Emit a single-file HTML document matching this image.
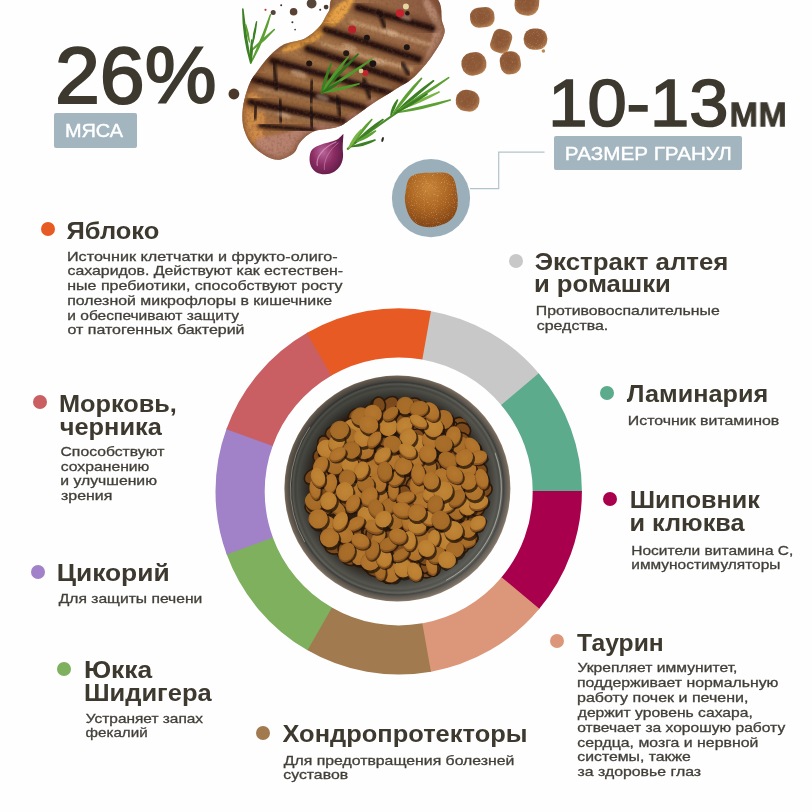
<!DOCTYPE html>
<html lang="ru"><head><meta charset="utf-8"><title>Состав корма</title>
<style>
html,body{margin:0;padding:0;background:#fefefe;}
body{width:812px;height:812px;position:relative;overflow:hidden;font-family:"Liberation Sans",sans-serif;}
.t{position:absolute;left:0;top:0;white-space:nowrap;transform-origin:0 0;line-height:1;will-change:transform;}
.dot{position:absolute;width:14px;height:14px;border-radius:50%;}
.lbl{position:absolute;background:#a3b5bf;border-radius:2px;}
svg{position:absolute;left:0;top:0;}
</style></head><body>
<svg width="812" height="812" viewBox="0 0 812 812">
<path d="M430.04,310.90 A183.2,183.2 0 0 1 539.35,374.01 L501.58,405.54 A134.0,134.0 0 0 0 421.62,359.38 Z" fill="#c8c8c8"/>
<path d="M538.73,373.27 A183.2,183.2 0 0 1 581.90,491.88 L532.70,491.75 A134.0,134.0 0 0 0 501.12,405.00 Z" fill="#5cab8c"/>
<path d="M581.90,490.92 A183.2,183.2 0 0 1 538.73,609.53 L501.12,577.80 A134.0,134.0 0 0 0 532.70,491.05 Z" fill="#a9004d"/>
<path d="M539.35,608.79 A183.2,183.2 0 0 1 430.04,671.90 L421.62,623.42 A134.0,134.0 0 0 0 501.58,577.26 Z" fill="#dc977a"/>
<path d="M430.98,671.73 A183.2,183.2 0 0 1 306.68,649.82 L331.40,607.27 A134.0,134.0 0 0 0 422.31,623.30 Z" fill="#a17a4f"/>
<path d="M307.52,650.30 A183.2,183.2 0 0 1 226.38,553.61 L272.66,536.90 A134.0,134.0 0 0 0 332.00,607.62 Z" fill="#7eb05e"/>
<path d="M226.71,554.51 A183.2,183.2 0 0 1 226.71,428.29 L272.90,445.24 A134.0,134.0 0 0 0 272.90,537.56 Z" fill="#a181c8"/>
<path d="M226.38,429.19 A183.2,183.2 0 0 1 307.52,332.50 L332.00,375.18 A134.0,134.0 0 0 0 272.66,445.90 Z" fill="#c95f62"/>
<path d="M306.68,332.98 A183.2,183.2 0 0 1 430.98,311.07 L422.31,359.50 A134.0,134.0 0 0 0 331.40,375.53 Z" fill="#e85a24"/>
<defs>
<radialGradient id="kb" cx="48%" cy="45%" r="60%"><stop offset="0" stop-color="#b4782f"/><stop offset="0.75" stop-color="#ae712b"/><stop offset="1" stop-color="#965c22"/></radialGradient>
<radialGradient id="kb2" cx="48%" cy="45%" r="60%"><stop offset="0" stop-color="#a96f2a"/><stop offset="0.75" stop-color="#a46a27"/><stop offset="1" stop-color="#8c551e"/></radialGradient>
<radialGradient id="kb3" cx="48%" cy="45%" r="60%"><stop offset="0" stop-color="#c08636"/><stop offset="0.75" stop-color="#ba7e31"/><stop offset="1" stop-color="#a56a27"/></radialGradient>
<radialGradient id="bowl" cx="50%" cy="50%" r="50%">
<stop offset="0" stop-color="#2e1d0e"/><stop offset="0.76" stop-color="#2e1f12"/><stop offset="0.82" stop-color="#3b3a34"/><stop offset="0.885" stop-color="#55554e"/><stop offset="0.905" stop-color="#4a4a44"/><stop offset="0.925" stop-color="#62625b"/><stop offset="0.94" stop-color="#3f3e3a"/><stop offset="0.955" stop-color="#55534d"/><stop offset="0.975" stop-color="#6a6156"/><stop offset="0.99" stop-color="#7b6c5c"/><stop offset="1" stop-color="#8d8174"/></radialGradient>
<linearGradient id="bowlsh" x1="0" y1="0" x2="1" y2="1"><stop offset="0" stop-color="#000" stop-opacity="0.28"/><stop offset="0.5" stop-color="#000" stop-opacity="0"/><stop offset="1" stop-color="#fff" stop-opacity="0.18"/></linearGradient>
<radialGradient id="pc" cx="45%" cy="42%" r="62%"><stop offset="0" stop-color="#8a5534"/><stop offset="0.6" stop-color="#8e5a38"/><stop offset="0.88" stop-color="#a87248"/><stop offset="1" stop-color="#c08a5c"/></radialGradient>
<filter id="grain" x="0" y="0" width="100%" height="100%"><feTurbulence type="fractalNoise" baseFrequency="0.9" numOctaves="2" seed="3" result="n"/><feColorMatrix in="n" type="matrix" values="0 0 0 0 1  0 0 0 0 0.85  0 0 0 0 0.6  0 0 0 2.2 -1.25" result="sp"/><feComposite in="sp" in2="SourceGraphic" operator="in"/></filter>
<radialGradient id="gran" cx="45%" cy="28%" r="78%"><stop offset="0" stop-color="#c88438"/><stop offset="0.5" stop-color="#ab6522"/><stop offset="1" stop-color="#7c3f14"/></radialGradient>
<linearGradient id="stk" x1="0" y1="1" x2="1" y2="0"><stop offset="0" stop-color="#8c5236"/><stop offset="0.5" stop-color="#8a563c"/><stop offset="1" stop-color="#7d4a34"/></linearGradient>
<radialGradient id="onion" cx="40%" cy="45%" r="65%"><stop offset="0" stop-color="#b9659a"/><stop offset="0.5" stop-color="#8b2d63"/><stop offset="1" stop-color="#5e1a45"/></radialGradient>
<clipPath id="bowlclip"><circle cx="397.5" cy="488.6" r="96"/></clipPath>
<clipPath id="topclip"><rect x="0" y="0" width="812" height="812"/></clipPath>
</defs>
<circle cx="397.4" cy="488.5" r="113.0" fill="url(#bowl)"/>
<circle cx="397.4" cy="488.5" r="113.0" fill="url(#bowlsh)"/>
<path d="M495.1,452.9 A104,104 0 0 1 446.2,580.3" stroke="#e8e8e4" stroke-width="0.8" fill="none" opacity="0.6"/>
<path d="M304.7,542.0 A107,107 0 0 1 309.8,427.1" stroke="#d8c8b0" stroke-width="0.8" fill="none" opacity="0.6"/>
<g clip-path="url(#bowlclip)">
<ellipse cx="399.4" cy="473.7" rx="9.4" ry="5.3" transform="rotate(147 399.4 473.7)" fill="#7a4a1c" stroke="#2a190c" stroke-width="1.6"/>
<ellipse cx="370.6" cy="478.8" rx="9.4" ry="8.7" transform="rotate(23 370.6 478.8)" fill="#7a4a1c" stroke="#2a190c" stroke-width="1.6"/>
<ellipse cx="324.5" cy="475.7" rx="9.3" ry="4.6" transform="rotate(107 324.5 475.7)" fill="#7a4a1c" stroke="#2a190c" stroke-width="1.6"/>
<ellipse cx="397.8" cy="522.9" rx="8.0" ry="7.7" transform="rotate(156 397.8 522.9)" fill="#7a4a1c" stroke="#2a190c" stroke-width="1.6"/>
<ellipse cx="402.4" cy="539.0" rx="8.2" ry="7.7" transform="rotate(72 402.4 539.0)" fill="#7a4a1c" stroke="#2a190c" stroke-width="1.6"/>
<ellipse cx="407.9" cy="495.0" rx="7.8" ry="6.5" transform="rotate(68 407.9 495.0)" fill="#7a4a1c" stroke="#2a190c" stroke-width="1.6"/>
<ellipse cx="339.6" cy="475.0" rx="8.5" ry="7.6" transform="rotate(165 339.6 475.0)" fill="#7a4a1c" stroke="#2a190c" stroke-width="1.6"/>
<ellipse cx="440.5" cy="520.7" rx="8.4" ry="8.8" transform="rotate(3 440.5 520.7)" fill="#7a4a1c" stroke="#2a190c" stroke-width="1.6"/>
<ellipse cx="472.6" cy="475.8" rx="7.9" ry="4.7" transform="rotate(29 472.6 475.8)" fill="#7a4a1c" stroke="#2a190c" stroke-width="1.6"/>
<ellipse cx="459.4" cy="426.2" rx="8.7" ry="8.9" transform="rotate(32 459.4 426.2)" fill="#7a4a1c" stroke="#2a190c" stroke-width="1.6"/>
<ellipse cx="470.4" cy="539.0" rx="7.7" ry="8.0" transform="rotate(52 470.4 539.0)" fill="#7a4a1c" stroke="#2a190c" stroke-width="1.6"/>
<ellipse cx="414.1" cy="406.1" rx="8.0" ry="8.6" transform="rotate(71 414.1 406.1)" fill="#7a4a1c" stroke="#2a190c" stroke-width="1.6"/>
<ellipse cx="442.6" cy="490.0" rx="8.7" ry="7.1" transform="rotate(141 442.6 490.0)" fill="#7a4a1c" stroke="#2a190c" stroke-width="1.6"/>
<ellipse cx="478.5" cy="503.5" rx="9.4" ry="5.4" transform="rotate(132 478.5 503.5)" fill="#7a4a1c" stroke="#2a190c" stroke-width="1.6"/>
<ellipse cx="325.9" cy="445.6" rx="9.3" ry="4.8" transform="rotate(160 325.9 445.6)" fill="#7a4a1c" stroke="#2a190c" stroke-width="1.6"/>
<ellipse cx="338.9" cy="475.4" rx="9.1" ry="5.6" transform="rotate(132 338.9 475.4)" fill="#7a4a1c" stroke="#2a190c" stroke-width="1.6"/>
<ellipse cx="337.1" cy="439.0" rx="7.9" ry="8.1" transform="rotate(46 337.1 439.0)" fill="#7a4a1c" stroke="#2a190c" stroke-width="1.6"/>
<ellipse cx="483.7" cy="489.3" rx="7.7" ry="8.5" transform="rotate(74 483.7 489.3)" fill="#7a4a1c" stroke="#2a190c" stroke-width="1.6"/>
<ellipse cx="470.2" cy="508.4" rx="7.8" ry="7.0" transform="rotate(178 470.2 508.4)" fill="#7a4a1c" stroke="#2a190c" stroke-width="1.6"/>
<ellipse cx="402.9" cy="491.2" rx="7.6" ry="6.1" transform="rotate(82 402.9 491.2)" fill="#7a4a1c" stroke="#2a190c" stroke-width="1.6"/>
<ellipse cx="433.5" cy="416.1" rx="8.8" ry="6.3" transform="rotate(17 433.5 416.1)" fill="#7a4a1c" stroke="#2a190c" stroke-width="1.6"/>
<ellipse cx="421.5" cy="553.5" rx="7.8" ry="5.9" transform="rotate(177 421.5 553.5)" fill="#7a4a1c" stroke="#2a190c" stroke-width="1.6"/>
<ellipse cx="412.6" cy="473.7" rx="8.8" ry="7.5" transform="rotate(120 412.6 473.7)" fill="#7a4a1c" stroke="#2a190c" stroke-width="1.6"/>
<ellipse cx="404.3" cy="453.9" rx="9.2" ry="8.1" transform="rotate(104 404.3 453.9)" fill="#7a4a1c" stroke="#2a190c" stroke-width="1.6"/>
<ellipse cx="358.4" cy="457.2" rx="9.1" ry="8.7" transform="rotate(27 358.4 457.2)" fill="#7a4a1c" stroke="#2a190c" stroke-width="1.6"/>
<ellipse cx="467.4" cy="448.9" rx="8.0" ry="7.4" transform="rotate(85 467.4 448.9)" fill="#7a4a1c" stroke="#2a190c" stroke-width="1.6"/>
<ellipse cx="444.9" cy="544.8" rx="9.5" ry="6.6" transform="rotate(145 444.9 544.8)" fill="#7a4a1c" stroke="#2a190c" stroke-width="1.6"/>
<ellipse cx="396.1" cy="521.3" rx="8.4" ry="6.3" transform="rotate(12 396.1 521.3)" fill="#7a4a1c" stroke="#2a190c" stroke-width="1.6"/>
<ellipse cx="371.2" cy="455.2" rx="8.2" ry="5.9" transform="rotate(27 371.2 455.2)" fill="#7a4a1c" stroke="#2a190c" stroke-width="1.6"/>
<ellipse cx="345.4" cy="553.6" rx="8.1" ry="5.5" transform="rotate(179 345.4 553.6)" fill="#7a4a1c" stroke="#2a190c" stroke-width="1.6"/>
<ellipse cx="322.1" cy="451.7" rx="8.4" ry="4.7" transform="rotate(130 322.1 451.7)" fill="#7a4a1c" stroke="#2a190c" stroke-width="1.6"/>
<ellipse cx="354.8" cy="536.5" rx="7.6" ry="6.3" transform="rotate(118 354.8 536.5)" fill="#7a4a1c" stroke="#2a190c" stroke-width="1.6"/>
<ellipse cx="342.9" cy="511.1" rx="7.6" ry="4.8" transform="rotate(162 342.9 511.1)" fill="#7a4a1c" stroke="#2a190c" stroke-width="1.6"/>
<ellipse cx="470.1" cy="494.4" rx="9.0" ry="7.6" transform="rotate(121 470.1 494.4)" fill="#7a4a1c" stroke="#2a190c" stroke-width="1.6"/>
<ellipse cx="430.5" cy="541.8" rx="8.2" ry="7.3" transform="rotate(11 430.5 541.8)" fill="#7a4a1c" stroke="#2a190c" stroke-width="1.6"/>
<ellipse cx="390.4" cy="480.0" rx="8.4" ry="7.1" transform="rotate(121 390.4 480.0)" fill="#7a4a1c" stroke="#2a190c" stroke-width="1.6"/>
<ellipse cx="334.3" cy="547.2" rx="9.2" ry="6.9" transform="rotate(2 334.3 547.2)" fill="#7a4a1c" stroke="#2a190c" stroke-width="1.6"/>
<ellipse cx="450.4" cy="428.5" rx="8.2" ry="4.5" transform="rotate(135 450.4 428.5)" fill="#7a4a1c" stroke="#2a190c" stroke-width="1.6"/>
<ellipse cx="425.7" cy="492.8" rx="7.8" ry="4.7" transform="rotate(172 425.7 492.8)" fill="#7a4a1c" stroke="#2a190c" stroke-width="1.6"/>
<ellipse cx="424.8" cy="570.5" rx="9.1" ry="7.0" transform="rotate(23 424.8 570.5)" fill="#7a4a1c" stroke="#2a190c" stroke-width="1.6"/>
<ellipse cx="416.7" cy="531.4" rx="7.9" ry="4.7" transform="rotate(89 416.7 531.4)" fill="#7a4a1c" stroke="#2a190c" stroke-width="1.6"/>
<ellipse cx="339.7" cy="481.8" rx="7.7" ry="5.1" transform="rotate(163 339.7 481.8)" fill="#7a4a1c" stroke="#2a190c" stroke-width="1.6"/>
<ellipse cx="423.9" cy="543.8" rx="8.4" ry="6.0" transform="rotate(39 423.9 543.8)" fill="#7a4a1c" stroke="#2a190c" stroke-width="1.6"/>
<ellipse cx="424.3" cy="445.9" rx="8.8" ry="6.2" transform="rotate(47 424.3 445.9)" fill="#7a4a1c" stroke="#2a190c" stroke-width="1.6"/>
<ellipse cx="314.5" cy="506.3" rx="9.5" ry="8.0" transform="rotate(166 314.5 506.3)" fill="#7a4a1c" stroke="#2a190c" stroke-width="1.6"/>
<ellipse cx="363.6" cy="458.9" rx="7.5" ry="6.6" transform="rotate(37 363.6 458.9)" fill="#7a4a1c" stroke="#2a190c" stroke-width="1.6"/>
<ellipse cx="321.2" cy="456.7" rx="8.0" ry="8.2" transform="rotate(139 321.2 456.7)" fill="#7a4a1c" stroke="#2a190c" stroke-width="1.6"/>
<ellipse cx="413.1" cy="457.7" rx="7.8" ry="8.3" transform="rotate(126 413.1 457.7)" fill="#7a4a1c" stroke="#2a190c" stroke-width="1.6"/>
<ellipse cx="405.6" cy="525.9" rx="8.6" ry="7.8" transform="rotate(60 405.6 525.9)" fill="#7a4a1c" stroke="#2a190c" stroke-width="1.6"/>
<ellipse cx="322.8" cy="511.2" rx="9.0" ry="7.9" transform="rotate(152 322.8 511.2)" fill="#7a4a1c" stroke="#2a190c" stroke-width="1.6"/>
<ellipse cx="335.6" cy="532.8" rx="9.0" ry="7.9" transform="rotate(58 335.6 532.8)" fill="#7a4a1c" stroke="#2a190c" stroke-width="1.6"/>
<ellipse cx="385.8" cy="423.4" rx="8.4" ry="4.8" transform="rotate(93 385.8 423.4)" fill="#7a4a1c" stroke="#2a190c" stroke-width="1.6"/>
<ellipse cx="333.3" cy="490.7" rx="9.3" ry="6.5" transform="rotate(43 333.3 490.7)" fill="#7a4a1c" stroke="#2a190c" stroke-width="1.6"/>
<ellipse cx="398.4" cy="416.2" rx="8.7" ry="5.9" transform="rotate(109 398.4 416.2)" fill="#7a4a1c" stroke="#2a190c" stroke-width="1.6"/>
<ellipse cx="437.9" cy="473.1" rx="8.1" ry="4.8" transform="rotate(61 437.9 473.1)" fill="#7a4a1c" stroke="#2a190c" stroke-width="1.6"/>
<ellipse cx="387.3" cy="458.2" rx="9.0" ry="4.9" transform="rotate(105 387.3 458.2)" fill="#7a4a1c" stroke="#2a190c" stroke-width="1.6"/>
<ellipse cx="436.2" cy="535.3" rx="9.4" ry="4.9" transform="rotate(174 436.2 535.3)" fill="#7a4a1c" stroke="#2a190c" stroke-width="1.6"/>
<ellipse cx="441.8" cy="544.1" rx="8.7" ry="4.5" transform="rotate(57 441.8 544.1)" fill="#7a4a1c" stroke="#2a190c" stroke-width="1.6"/>
<ellipse cx="365.8" cy="472.9" rx="9.4" ry="8.0" transform="rotate(135 365.8 472.9)" fill="#7a4a1c" stroke="#2a190c" stroke-width="1.6"/>
<ellipse cx="438.7" cy="431.5" rx="8.3" ry="6.7" transform="rotate(58 438.7 431.5)" fill="#7a4a1c" stroke="#2a190c" stroke-width="1.6"/>
<ellipse cx="454.9" cy="486.9" rx="9.1" ry="6.6" transform="rotate(56 454.9 486.9)" fill="#7a4a1c" stroke="#2a190c" stroke-width="1.6"/>
<ellipse cx="319.3" cy="480.8" rx="7.7" ry="8.8" transform="rotate(90 319.3 480.8)" fill="#7a4a1c" stroke="#2a190c" stroke-width="1.6"/>
<ellipse cx="477.4" cy="453.0" rx="9.5" ry="4.8" transform="rotate(88 477.4 453.0)" fill="#7a4a1c" stroke="#2a190c" stroke-width="1.6"/>
<ellipse cx="453.2" cy="464.2" rx="8.2" ry="8.5" transform="rotate(5 453.2 464.2)" fill="#7a4a1c" stroke="#2a190c" stroke-width="1.6"/>
<ellipse cx="378.9" cy="404.1" rx="7.8" ry="4.6" transform="rotate(12 378.9 404.1)" fill="#7a4a1c" stroke="#2a190c" stroke-width="1.6"/>
<ellipse cx="312.1" cy="476.4" rx="8.8" ry="6.4" transform="rotate(137 312.1 476.4)" fill="#7a4a1c" stroke="#2a190c" stroke-width="1.6"/>
<ellipse cx="392.7" cy="500.2" rx="7.8" ry="7.2" transform="rotate(135 392.7 500.2)" fill="#7a4a1c" stroke="#2a190c" stroke-width="1.6"/>
<ellipse cx="408.1" cy="519.5" rx="9.0" ry="8.8" transform="rotate(26 408.1 519.5)" fill="#7a4a1c" stroke="#2a190c" stroke-width="1.6"/>
<ellipse cx="429.4" cy="468.8" rx="9.3" ry="6.3" transform="rotate(12 429.4 468.8)" fill="#7a4a1c" stroke="#2a190c" stroke-width="1.6"/>
<ellipse cx="364.8" cy="429.4" rx="7.9" ry="6.9" transform="rotate(4 364.8 429.4)" fill="#7a4a1c" stroke="#2a190c" stroke-width="1.6"/>
<ellipse cx="336.6" cy="458.6" rx="7.9" ry="6.9" transform="rotate(114 336.6 458.6)" fill="#7a4a1c" stroke="#2a190c" stroke-width="1.6"/>
<ellipse cx="358.5" cy="492.9" rx="7.8" ry="7.5" transform="rotate(24 358.5 492.9)" fill="#7a4a1c" stroke="#2a190c" stroke-width="1.6"/>
<ellipse cx="333.2" cy="491.9" rx="9.2" ry="6.1" transform="rotate(180 333.2 491.9)" fill="#7a4a1c" stroke="#2a190c" stroke-width="1.6"/>
<ellipse cx="348.5" cy="544.6" rx="8.4" ry="6.9" transform="rotate(114 348.5 544.6)" fill="#7a4a1c" stroke="#2a190c" stroke-width="1.6"/>
<ellipse cx="475.5" cy="466.4" rx="9.3" ry="4.9" transform="rotate(146 475.5 466.4)" fill="#7a4a1c" stroke="#2a190c" stroke-width="1.6"/>
<ellipse cx="428.5" cy="490.9" rx="8.3" ry="6.0" transform="rotate(55 428.5 490.9)" fill="#7a4a1c" stroke="#2a190c" stroke-width="1.6"/>
<ellipse cx="372.9" cy="456.7" rx="8.6" ry="5.1" transform="rotate(114 372.9 456.7)" fill="#7a4a1c" stroke="#2a190c" stroke-width="1.6"/>
<ellipse cx="368.7" cy="465.0" rx="8.9" ry="6.5" transform="rotate(115 368.7 465.0)" fill="#7a4a1c" stroke="#2a190c" stroke-width="1.6"/>
<ellipse cx="343.3" cy="487.9" rx="9.4" ry="6.3" transform="rotate(108 343.3 487.9)" fill="#7a4a1c" stroke="#2a190c" stroke-width="1.6"/>
<ellipse cx="441.5" cy="485.2" rx="8.3" ry="6.3" transform="rotate(149 441.5 485.2)" fill="#7a4a1c" stroke="#2a190c" stroke-width="1.6"/>
<ellipse cx="368.5" cy="499.4" rx="8.3" ry="8.3" transform="rotate(102 368.5 499.4)" fill="#7a4a1c" stroke="#2a190c" stroke-width="1.6"/>
<ellipse cx="371.3" cy="530.9" rx="8.6" ry="6.4" transform="rotate(166 371.3 530.9)" fill="#7a4a1c" stroke="#2a190c" stroke-width="1.6"/>
<ellipse cx="473.3" cy="517.1" rx="9.4" ry="8.0" transform="rotate(81 473.3 517.1)" fill="#7a4a1c" stroke="#2a190c" stroke-width="1.6"/>
<ellipse cx="447.7" cy="554.3" rx="8.7" ry="6.3" transform="rotate(37 447.7 554.3)" fill="#7a4a1c" stroke="#2a190c" stroke-width="1.6"/>
<ellipse cx="364.9" cy="500.0" rx="7.7" ry="4.7" transform="rotate(94 364.9 500.0)" fill="#7a4a1c" stroke="#2a190c" stroke-width="1.6"/>
<ellipse cx="395.5" cy="514.4" rx="7.9" ry="5.9" transform="rotate(54 395.5 514.4)" fill="#7a4a1c" stroke="#2a190c" stroke-width="1.6"/>
<ellipse cx="425.7" cy="417.2" rx="7.6" ry="6.9" transform="rotate(25 425.7 417.2)" fill="#7a4a1c" stroke="#2a190c" stroke-width="1.6"/>
<ellipse cx="331.4" cy="506.8" rx="8.6" ry="7.6" transform="rotate(133 331.4 506.8)" fill="#7a4a1c" stroke="#2a190c" stroke-width="1.6"/>
<ellipse cx="432.8" cy="568.8" rx="7.5" ry="7.3" transform="rotate(142 432.8 568.8)" fill="#7a4a1c" stroke="#2a190c" stroke-width="1.6"/>
<ellipse cx="425.2" cy="409.3" rx="7.7" ry="4.6" transform="rotate(72 425.2 409.3)" fill="#7a4a1c" stroke="#2a190c" stroke-width="1.6"/>
<ellipse cx="389.3" cy="571.7" rx="7.5" ry="5.6" transform="rotate(83 389.3 571.7)" fill="#7a4a1c" stroke="#2a190c" stroke-width="1.6"/>
<ellipse cx="345.7" cy="444.1" rx="8.9" ry="6.8" transform="rotate(78 345.7 444.1)" fill="#7a4a1c" stroke="#2a190c" stroke-width="1.6"/>
<ellipse cx="369.4" cy="488.4" rx="8.9" ry="5.7" transform="rotate(166 369.4 488.4)" fill="#7a4a1c" stroke="#2a190c" stroke-width="1.6"/>
<ellipse cx="393.3" cy="482.9" rx="9.0" ry="7.3" transform="rotate(5 393.3 482.9)" fill="#7a4a1c" stroke="#2a190c" stroke-width="1.6"/>
<ellipse cx="402.9" cy="469.1" rx="7.9" ry="5.7" transform="rotate(168 402.9 469.1)" fill="#7a4a1c" stroke="#2a190c" stroke-width="1.6"/>
<ellipse cx="450.3" cy="492.1" rx="9.2" ry="6.7" transform="rotate(179 450.3 492.1)" fill="#7a4a1c" stroke="#2a190c" stroke-width="1.6"/>
<ellipse cx="366.5" cy="444.1" rx="9.0" ry="7.8" transform="rotate(15 366.5 444.1)" fill="#7a4a1c" stroke="#2a190c" stroke-width="1.6"/>
<ellipse cx="477.2" cy="509.0" rx="7.5" ry="6.8" transform="rotate(145 477.2 509.0)" fill="#7a4a1c" stroke="#2a190c" stroke-width="1.6"/>
<ellipse cx="462.5" cy="430.3" rx="8.2" ry="7.5" transform="rotate(24 462.5 430.3)" fill="#7a4a1c" stroke="#2a190c" stroke-width="1.6"/>
<ellipse cx="339.8" cy="526.4" rx="8.4" ry="5.7" transform="rotate(35 339.8 526.4)" fill="#7a4a1c" stroke="#2a190c" stroke-width="1.6"/>
<ellipse cx="420.1" cy="557.1" rx="8.3" ry="4.9" transform="rotate(107 420.1 557.1)" fill="#7a4a1c" stroke="#2a190c" stroke-width="1.6"/>
<ellipse cx="451.6" cy="449.6" rx="9.0" ry="4.8" transform="rotate(160 451.6 449.6)" fill="#7a4a1c" stroke="#2a190c" stroke-width="1.6"/>
<ellipse cx="382.9" cy="453.9" rx="8.0" ry="8.9" transform="rotate(48 382.9 453.9)" fill="#7a4a1c" stroke="#2a190c" stroke-width="1.6"/>
<ellipse cx="349.0" cy="558.1" rx="8.4" ry="6.9" transform="rotate(36 349.0 558.1)" fill="#7a4a1c" stroke="#2a190c" stroke-width="1.6"/>
<ellipse cx="419.5" cy="563.4" rx="8.4" ry="7.0" transform="rotate(37 419.5 563.4)" fill="#7a4a1c" stroke="#2a190c" stroke-width="1.6"/>
<ellipse cx="453.6" cy="440.7" rx="8.2" ry="5.0" transform="rotate(17 453.6 440.7)" fill="#7a4a1c" stroke="#2a190c" stroke-width="1.6"/>
<ellipse cx="323.4" cy="518.5" rx="7.7" ry="7.0" transform="rotate(50 323.4 518.5)" fill="#7a4a1c" stroke="#2a190c" stroke-width="1.6"/>
<ellipse cx="445.4" cy="421.1" rx="9.1" ry="7.6" transform="rotate(19 445.4 421.1)" fill="#7a4a1c" stroke="#2a190c" stroke-width="1.6"/>
<ellipse cx="420.6" cy="501.1" rx="8.4" ry="6.8" transform="rotate(143 420.6 501.1)" fill="#7a4a1c" stroke="#2a190c" stroke-width="1.6"/>
<ellipse cx="375.6" cy="468.4" rx="9.4" ry="6.7" transform="rotate(8 375.6 468.4)" fill="#7a4a1c" stroke="#2a190c" stroke-width="1.6"/>
<ellipse cx="341.8" cy="501.2" rx="8.4" ry="6.8" transform="rotate(164 341.8 501.2)" fill="#7a4a1c" stroke="#2a190c" stroke-width="1.6"/>
<ellipse cx="434.2" cy="462.8" rx="8.2" ry="6.7" transform="rotate(9 434.2 462.8)" fill="#7a4a1c" stroke="#2a190c" stroke-width="1.6"/>
<ellipse cx="346.1" cy="467.9" rx="8.4" ry="8.9" transform="rotate(110 346.1 467.9)" fill="#7a4a1c" stroke="#2a190c" stroke-width="1.6"/>
<ellipse cx="375.3" cy="570.9" rx="9.2" ry="5.7" transform="rotate(11 375.3 570.9)" fill="#7a4a1c" stroke="#2a190c" stroke-width="1.6"/>
<ellipse cx="473.2" cy="502.4" rx="8.3" ry="7.8" transform="rotate(110 473.2 502.4)" fill="#7a4a1c" stroke="#2a190c" stroke-width="1.6"/>
<ellipse cx="447.5" cy="425.0" rx="8.4" ry="6.5" transform="rotate(87 447.5 425.0)" fill="#7a4a1c" stroke="#2a190c" stroke-width="1.6"/>
<ellipse cx="336.0" cy="473.0" rx="8.4" ry="6.1" transform="rotate(24 336.0 473.0)" fill="#7a4a1c" stroke="#2a190c" stroke-width="1.6"/>
<ellipse cx="405.9" cy="554.9" rx="8.9" ry="6.5" transform="rotate(35 405.9 554.9)" fill="#7a4a1c" stroke="#2a190c" stroke-width="1.6"/>
<ellipse cx="376.3" cy="412.7" rx="8.8" ry="6.6" transform="rotate(15 376.3 412.7)" fill="#7a4a1c" stroke="#2a190c" stroke-width="1.6"/>
<ellipse cx="406.9" cy="485.6" rx="9.5" ry="8.0" transform="rotate(112 406.9 485.6)" fill="#7a4a1c" stroke="#2a190c" stroke-width="1.6"/>
<ellipse cx="447.9" cy="514.7" rx="8.9" ry="6.2" transform="rotate(35 447.9 514.7)" fill="#7a4a1c" stroke="#2a190c" stroke-width="1.6"/>
<ellipse cx="381.8" cy="427.2" rx="8.6" ry="7.5" transform="rotate(127 381.8 427.2)" fill="#7a4a1c" stroke="#2a190c" stroke-width="1.6"/>
<ellipse cx="333.5" cy="433.8" rx="7.5" ry="8.1" transform="rotate(92 333.5 433.8)" fill="#7a4a1c" stroke="#2a190c" stroke-width="1.6"/>
<ellipse cx="347.4" cy="486.3" rx="8.3" ry="5.0" transform="rotate(43 347.4 486.3)" fill="#7a4a1c" stroke="#2a190c" stroke-width="1.6"/>
<ellipse cx="385.8" cy="575.9" rx="8.6" ry="5.8" transform="rotate(56 385.8 575.9)" fill="#7a4a1c" stroke="#2a190c" stroke-width="1.6"/>
<ellipse cx="368.0" cy="450.2" rx="8.0" ry="6.3" transform="rotate(128 368.0 450.2)" fill="#7a4a1c" stroke="#2a190c" stroke-width="1.6"/>
<ellipse cx="462.7" cy="542.1" rx="7.8" ry="6.6" transform="rotate(34 462.7 542.1)" fill="#7a4a1c" stroke="#2a190c" stroke-width="1.6"/>
<ellipse cx="419.8" cy="549.5" rx="8.0" ry="5.4" transform="rotate(122 419.8 549.5)" fill="#7a4a1c" stroke="#2a190c" stroke-width="1.6"/>
<ellipse cx="437.5" cy="537.8" rx="8.0" ry="8.6" transform="rotate(151 437.5 537.8)" fill="#7a4a1c" stroke="#2a190c" stroke-width="1.6"/>
<ellipse cx="356.4" cy="416.0" rx="8.2" ry="7.0" transform="rotate(156 356.4 416.0)" fill="#7a4a1c" stroke="#2a190c" stroke-width="1.6"/>
<ellipse cx="470.7" cy="535.0" rx="8.9" ry="4.7" transform="rotate(45 470.7 535.0)" fill="#7a4a1c" stroke="#2a190c" stroke-width="1.6"/>
<ellipse cx="455.3" cy="494.3" rx="9.0" ry="8.3" transform="rotate(129 455.3 494.3)" fill="#7a4a1c" stroke="#2a190c" stroke-width="1.6"/>
<ellipse cx="453.2" cy="453.2" rx="8.3" ry="6.9" transform="rotate(149 453.2 453.2)" fill="#7a4a1c" stroke="#2a190c" stroke-width="1.6"/>
<ellipse cx="373.4" cy="519.7" rx="8.5" ry="6.0" transform="rotate(177 373.4 519.7)" fill="#7a4a1c" stroke="#2a190c" stroke-width="1.6"/>
<ellipse cx="396.0" cy="533.6" rx="7.6" ry="7.2" transform="rotate(22 396.0 533.6)" fill="#7a4a1c" stroke="#2a190c" stroke-width="1.6"/>
<ellipse cx="464.9" cy="463.3" rx="8.4" ry="4.8" transform="rotate(166 464.9 463.3)" fill="#7a4a1c" stroke="#2a190c" stroke-width="1.6"/>
<ellipse cx="430.3" cy="547.0" rx="9.0" ry="6.6" transform="rotate(121 430.3 547.0)" fill="#7a4a1c" stroke="#2a190c" stroke-width="1.6"/>
<ellipse cx="386.3" cy="441.6" rx="8.0" ry="5.1" transform="rotate(172 386.3 441.6)" fill="#7a4a1c" stroke="#2a190c" stroke-width="1.6"/>
<ellipse cx="391.2" cy="512.6" rx="9.3" ry="7.9" transform="rotate(35 391.2 512.6)" fill="#7a4a1c" stroke="#2a190c" stroke-width="1.6"/>
<ellipse cx="425.8" cy="454.7" rx="9.1" ry="7.9" transform="rotate(115 425.8 454.7)" fill="#7a4a1c" stroke="#2a190c" stroke-width="1.6"/>
<ellipse cx="397.5" cy="522.7" rx="9.5" ry="5.0" transform="rotate(73 397.5 522.7)" fill="#7a4a1c" stroke="#2a190c" stroke-width="1.6"/>
<ellipse cx="327.0" cy="452.9" rx="8.7" ry="5.3" transform="rotate(167 327.0 452.9)" fill="#7a4a1c" stroke="#2a190c" stroke-width="1.6"/>
<ellipse cx="415.6" cy="436.2" rx="7.5" ry="8.3" transform="rotate(20 415.6 436.2)" fill="#7a4a1c" stroke="#2a190c" stroke-width="1.6"/>
<ellipse cx="355.7" cy="526.8" rx="7.6" ry="8.1" transform="rotate(32 355.7 526.8)" fill="#7a4a1c" stroke="#2a190c" stroke-width="1.6"/>
<ellipse cx="461.5" cy="483.5" rx="9.0" ry="5.7" transform="rotate(13 461.5 483.5)" fill="#7a4a1c" stroke="#2a190c" stroke-width="1.6"/>
<ellipse cx="456.5" cy="452.5" rx="8.8" ry="8.4" transform="rotate(158 456.5 452.5)" fill="#7a4a1c" stroke="#2a190c" stroke-width="1.6"/>
<ellipse cx="372.8" cy="555.0" rx="7.6" ry="8.8" transform="rotate(169 372.8 555.0)" fill="#7a4a1c" stroke="#2a190c" stroke-width="1.6"/>
<ellipse cx="442.7" cy="505.6" rx="7.8" ry="5.6" transform="rotate(31 442.7 505.6)" fill="#7a4a1c" stroke="#2a190c" stroke-width="1.6"/>
<ellipse cx="374.3" cy="535.4" rx="9.0" ry="8.0" transform="rotate(47 374.3 535.4)" fill="#7a4a1c" stroke="#2a190c" stroke-width="1.6"/>
<ellipse cx="389.2" cy="456.9" rx="8.9" ry="7.9" transform="rotate(31 389.2 456.9)" fill="#7a4a1c" stroke="#2a190c" stroke-width="1.6"/>
<ellipse cx="345.3" cy="474.8" rx="9.0" ry="5.0" transform="rotate(131 345.3 474.8)" fill="#7a4a1c" stroke="#2a190c" stroke-width="1.6"/>
<ellipse cx="392.6" cy="411.6" rx="7.5" ry="4.7" transform="rotate(102 392.6 411.6)" fill="#7a4a1c" stroke="#2a190c" stroke-width="1.6"/>
<ellipse cx="438.2" cy="473.4" rx="7.7" ry="8.5" transform="rotate(162 438.2 473.4)" fill="#7a4a1c" stroke="#2a190c" stroke-width="1.6"/>
<ellipse cx="409.1" cy="413.7" rx="8.9" ry="7.1" transform="rotate(106 409.1 413.7)" fill="#7a4a1c" stroke="#2a190c" stroke-width="1.6"/>
<ellipse cx="435.7" cy="531.5" rx="9.3" ry="5.8" transform="rotate(58 435.7 531.5)" fill="#7a4a1c" stroke="#2a190c" stroke-width="1.6"/>
<ellipse cx="355.3" cy="500.9" rx="9.3" ry="8.9" transform="rotate(174 355.3 500.9)" fill="#7a4a1c" stroke="#2a190c" stroke-width="1.6"/>
<ellipse cx="407.4" cy="478.1" rx="9.3" ry="8.9" transform="rotate(32 407.4 478.1)" fill="#7a4a1c" stroke="#2a190c" stroke-width="1.6"/>
<ellipse cx="386.9" cy="518.6" rx="9.1" ry="7.3" transform="rotate(115 386.9 518.6)" fill="#7a4a1c" stroke="#2a190c" stroke-width="1.6"/>
<ellipse cx="448.7" cy="443.7" rx="9.0" ry="5.4" transform="rotate(24 448.7 443.7)" fill="#7a4a1c" stroke="#2a190c" stroke-width="1.6"/>
<ellipse cx="434.3" cy="533.9" rx="8.1" ry="7.7" transform="rotate(178 434.3 533.9)" fill="#7a4a1c" stroke="#2a190c" stroke-width="1.6"/>
<ellipse cx="463.4" cy="439.7" rx="8.5" ry="6.1" transform="rotate(41 463.4 439.7)" fill="#7a4a1c" stroke="#2a190c" stroke-width="1.6"/>
<ellipse cx="413.0" cy="438.4" rx="8.2" ry="6.6" transform="rotate(82 413.0 438.4)" fill="#7a4a1c" stroke="#2a190c" stroke-width="1.6"/>
<ellipse cx="426.4" cy="413.6" rx="8.9" ry="8.6" transform="rotate(103 426.4 413.6)" fill="#7a4a1c" stroke="#2a190c" stroke-width="1.6"/>
<ellipse cx="401.7" cy="498.0" rx="9.3" ry="8.4" transform="rotate(69 401.7 498.0)" fill="#7a4a1c" stroke="#2a190c" stroke-width="1.6"/>
<ellipse cx="443.0" cy="441.7" rx="8.3" ry="5.5" transform="rotate(89 443.0 441.7)" fill="#7a4a1c" stroke="#2a190c" stroke-width="1.6"/>
<ellipse cx="355.2" cy="492.5" rx="9.1" ry="7.5" transform="rotate(109 355.2 492.5)" fill="#7a4a1c" stroke="#2a190c" stroke-width="1.6"/>
<ellipse cx="406.2" cy="497.0" rx="9.1" ry="6.1" transform="rotate(20 406.2 497.0)" fill="#7a4a1c" stroke="#2a190c" stroke-width="1.6"/>
<ellipse cx="399.6" cy="547.4" rx="8.7" ry="8.9" transform="rotate(101 399.6 547.4)" fill="#7a4a1c" stroke="#2a190c" stroke-width="1.6"/>
<ellipse cx="392.5" cy="456.1" rx="9.4" ry="6.0" transform="rotate(2 392.5 456.1)" fill="#7a4a1c" stroke="#2a190c" stroke-width="1.6"/>
<ellipse cx="383.1" cy="478.5" rx="8.1" ry="7.7" transform="rotate(92 383.1 478.5)" fill="#7a4a1c" stroke="#2a190c" stroke-width="1.6"/>
<ellipse cx="457.4" cy="543.3" rx="8.4" ry="5.6" transform="rotate(72 457.4 543.3)" fill="#7a4a1c" stroke="#2a190c" stroke-width="1.6"/>
<ellipse cx="472.4" cy="501.5" rx="8.7" ry="7.0" transform="rotate(63 472.4 501.5)" fill="#7a4a1c" stroke="#2a190c" stroke-width="1.6"/>
<ellipse cx="380.9" cy="406.8" rx="9.1" ry="5.3" transform="rotate(36 380.9 406.8)" fill="#7a4a1c" stroke="#2a190c" stroke-width="1.6"/>
<ellipse cx="407.4" cy="483.6" rx="8.7" ry="7.9" transform="rotate(43 407.4 483.6)" fill="#7a4a1c" stroke="#2a190c" stroke-width="1.6"/>
<ellipse cx="390.2" cy="537.8" rx="7.6" ry="7.1" transform="rotate(49 390.2 537.8)" fill="#7a4a1c" stroke="#2a190c" stroke-width="1.6"/>
<ellipse cx="467.2" cy="457.7" rx="8.2" ry="6.5" transform="rotate(161 467.2 457.7)" fill="#7a4a1c" stroke="#2a190c" stroke-width="1.6"/>
<ellipse cx="439.3" cy="513.8" rx="7.6" ry="4.6" transform="rotate(6 439.3 513.8)" fill="#7a4a1c" stroke="#2a190c" stroke-width="1.6"/>
<ellipse cx="386.7" cy="417.7" rx="8.4" ry="6.9" transform="rotate(38 386.7 417.7)" fill="#7a4a1c" stroke="#2a190c" stroke-width="1.6"/>
<ellipse cx="393.7" cy="495.6" rx="8.9" ry="8.2" transform="rotate(5 393.7 495.6)" fill="#7a4a1c" stroke="#2a190c" stroke-width="1.6"/>
<ellipse cx="353.0" cy="532.3" rx="8.0" ry="8.9" transform="rotate(72 353.0 532.3)" fill="#7a4a1c" stroke="#2a190c" stroke-width="1.6"/>
<ellipse cx="365.3" cy="503.2" rx="8.6" ry="7.5" transform="rotate(149 365.3 503.2)" fill="#7a4a1c" stroke="#2a190c" stroke-width="1.6"/>
<ellipse cx="387.7" cy="500.0" rx="7.7" ry="6.9" transform="rotate(38 387.7 500.0)" fill="#7a4a1c" stroke="#2a190c" stroke-width="1.6"/>
<ellipse cx="322.0" cy="508.5" rx="9.3" ry="6.2" transform="rotate(25 322.0 508.5)" fill="#7a4a1c" stroke="#2a190c" stroke-width="1.6"/>
<ellipse cx="394.6" cy="466.1" rx="7.8" ry="7.3" transform="rotate(82 394.6 466.1)" fill="#7a4a1c" stroke="#2a190c" stroke-width="1.6"/>
<ellipse cx="360.2" cy="457.7" rx="9.4" ry="7.3" transform="rotate(52 360.2 457.7)" fill="#7a4a1c" stroke="#2a190c" stroke-width="1.6"/>
<ellipse cx="366.7" cy="521.7" rx="7.7" ry="5.7" transform="rotate(145 366.7 521.7)" fill="#7a4a1c" stroke="#2a190c" stroke-width="1.6"/>
<ellipse cx="323.1" cy="494.1" rx="7.6" ry="5.6" transform="rotate(172 323.1 494.1)" fill="#7a4a1c" stroke="#2a190c" stroke-width="1.6"/>
<ellipse cx="351.5" cy="496.2" rx="8.1" ry="7.2" transform="rotate(45 351.5 496.2)" fill="#7a4a1c" stroke="#2a190c" stroke-width="1.6"/>
<ellipse cx="390.1" cy="403.7" rx="8.7" ry="6.3" transform="rotate(143 390.1 403.7)" fill="#7a4a1c" stroke="#2a190c" stroke-width="1.6"/>
<ellipse cx="401.8" cy="516.1" rx="8.2" ry="7.3" transform="rotate(148 401.8 516.1)" fill="#7a4a1c" stroke="#2a190c" stroke-width="1.6"/>
<ellipse cx="450.6" cy="525.4" rx="8.0" ry="7.4" transform="rotate(21 450.6 525.4)" fill="#7a4a1c" stroke="#2a190c" stroke-width="1.6"/>
<ellipse cx="363.9" cy="419.6" rx="8.4" ry="9.0" transform="rotate(137 363.9 419.6)" fill="#7a4a1c" stroke="#2a190c" stroke-width="1.6"/>
<ellipse cx="345.5" cy="446.5" rx="8.2" ry="8.4" transform="rotate(115 345.5 446.5)" fill="#7a4a1c" stroke="#2a190c" stroke-width="1.6"/>
<ellipse cx="424.6" cy="563.7" rx="9.1" ry="7.2" transform="rotate(102 424.6 563.7)" fill="#7a4a1c" stroke="#2a190c" stroke-width="1.6"/>
<ellipse cx="374.0" cy="460.5" rx="7.9" ry="8.6" transform="rotate(174 374.0 460.5)" fill="#7a4a1c" stroke="#2a190c" stroke-width="1.6"/>
<ellipse cx="359.3" cy="429.2" rx="8.5" ry="5.8" transform="rotate(117 359.3 429.2)" fill="#7a4a1c" stroke="#2a190c" stroke-width="1.6"/>
<ellipse cx="460.9" cy="515.4" rx="8.5" ry="6.8" transform="rotate(52 460.9 515.4)" fill="#7a4a1c" stroke="#2a190c" stroke-width="1.6"/>
<ellipse cx="418.2" cy="475.2" rx="8.5" ry="7.6" transform="rotate(177 418.2 475.2)" fill="#7a4a1c" stroke="#2a190c" stroke-width="1.6"/>
<ellipse cx="343.2" cy="465.8" rx="7.9" ry="5.8" transform="rotate(99 343.2 465.8)" fill="#7a4a1c" stroke="#2a190c" stroke-width="1.6"/>
<ellipse cx="325.9" cy="507.7" rx="8.6" ry="7.3" transform="rotate(135 325.9 507.7)" fill="#7a4a1c" stroke="#2a190c" stroke-width="1.6"/>
<ellipse cx="359.0" cy="473.8" rx="7.7" ry="8.1" transform="rotate(170 359.0 473.8)" fill="#7a4a1c" stroke="#2a190c" stroke-width="1.6"/>
<ellipse cx="419.5" cy="417.2" rx="9.1" ry="7.6" transform="rotate(146 419.5 417.2)" fill="#7a4a1c" stroke="#2a190c" stroke-width="1.6"/>
<ellipse cx="412.4" cy="432.9" rx="7.7" ry="5.2" transform="rotate(131 412.4 432.9)" fill="#7a4a1c" stroke="#2a190c" stroke-width="1.6"/>
<ellipse cx="455.1" cy="524.8" rx="7.5" ry="8.4" transform="rotate(106 455.1 524.8)" fill="#7a4a1c" stroke="#2a190c" stroke-width="1.6"/>
<ellipse cx="447.4" cy="519.4" rx="8.0" ry="5.6" transform="rotate(65 447.4 519.4)" fill="#7a4a1c" stroke="#2a190c" stroke-width="1.6"/>
<ellipse cx="474.1" cy="460.2" rx="8.3" ry="6.9" transform="rotate(77 474.1 460.2)" fill="#7a4a1c" stroke="#2a190c" stroke-width="1.6"/>
<ellipse cx="346.2" cy="548.2" rx="8.6" ry="7.5" transform="rotate(139 346.2 548.2)" fill="#7a4a1c" stroke="#2a190c" stroke-width="1.6"/>
<ellipse cx="412.3" cy="484.0" rx="8.4" ry="5.5" transform="rotate(119 412.3 484.0)" fill="#7a4a1c" stroke="#2a190c" stroke-width="1.6"/>
<ellipse cx="341.6" cy="455.6" rx="7.8" ry="8.2" transform="rotate(171 341.6 455.6)" fill="#7a4a1c" stroke="#2a190c" stroke-width="1.6"/>
<ellipse cx="335.4" cy="468.6" rx="8.3" ry="8.8" transform="rotate(147 335.4 468.6)" fill="#7a4a1c" stroke="#2a190c" stroke-width="1.6"/>
<ellipse cx="418.7" cy="438.3" rx="8.7" ry="8.6" transform="rotate(79 418.7 438.3)" fill="#7a4a1c" stroke="#2a190c" stroke-width="1.6"/>
<ellipse cx="460.9" cy="544.5" rx="9.3" ry="8.6" transform="rotate(88 460.9 544.5)" fill="#7a4a1c" stroke="#2a190c" stroke-width="1.6"/>
<ellipse cx="330.4" cy="531.8" rx="8.6" ry="5.7" transform="rotate(173 330.4 531.8)" fill="#7a4a1c" stroke="#2a190c" stroke-width="1.6"/>
<ellipse cx="378.8" cy="532.7" rx="7.6" ry="5.3" transform="rotate(51 378.8 532.7)" fill="#7a4a1c" stroke="#2a190c" stroke-width="1.6"/>
<ellipse cx="404.3" cy="493.3" rx="7.9" ry="7.0" transform="rotate(82 404.3 493.3)" fill="#7a4a1c" stroke="#2a190c" stroke-width="1.6"/>
<ellipse cx="324.4" cy="444.2" rx="8.5" ry="6.5" transform="rotate(72 324.4 444.2)" fill="#7a4a1c" stroke="#2a190c" stroke-width="1.6"/>
<ellipse cx="425.8" cy="455.0" rx="7.8" ry="5.0" transform="rotate(85 425.8 455.0)" fill="#7a4a1c" stroke="#2a190c" stroke-width="1.6"/>
<ellipse cx="432.1" cy="430.2" rx="7.6" ry="4.8" transform="rotate(49 432.1 430.2)" fill="#7a4a1c" stroke="#2a190c" stroke-width="1.6"/>
<ellipse cx="431.3" cy="509.9" rx="8.5" ry="4.6" transform="rotate(141 431.3 509.9)" fill="#7a4a1c" stroke="#2a190c" stroke-width="1.6"/>
<ellipse cx="399.9" cy="536.3" rx="7.8" ry="6.1" transform="rotate(136 399.9 536.3)" fill="#7a4a1c" stroke="#2a190c" stroke-width="1.6"/>
<ellipse cx="401.5" cy="411.6" rx="7.5" ry="7.1" transform="rotate(79 401.5 411.6)" fill="#7a4a1c" stroke="#2a190c" stroke-width="1.6"/>
<ellipse cx="382.8" cy="524.9" rx="7.7" ry="4.9" transform="rotate(114 382.8 524.9)" fill="#7a4a1c" stroke="#2a190c" stroke-width="1.6"/>
<ellipse cx="339.1" cy="504.3" rx="9.1" ry="7.6" transform="rotate(19 339.1 504.3)" fill="#7a4a1c" stroke="#2a190c" stroke-width="1.6"/>
<ellipse cx="406.0" cy="448.0" rx="7.6" ry="5.0" transform="rotate(169 406.0 448.0)" fill="#7a4a1c" stroke="#2a190c" stroke-width="1.6"/>
<ellipse cx="413.6" cy="446.0" rx="7.6" ry="5.6" transform="rotate(91 413.6 446.0)" fill="#7a4a1c" stroke="#2a190c" stroke-width="1.6"/>
<ellipse cx="393.3" cy="415.2" rx="8.0" ry="6.3" transform="rotate(11 393.3 415.2)" fill="#7a4a1c" stroke="#2a190c" stroke-width="1.6"/>
<ellipse cx="398.8" cy="462.0" rx="8.8" ry="8.0" transform="rotate(129 398.8 462.0)" fill="#7a4a1c" stroke="#2a190c" stroke-width="1.6"/>
<ellipse cx="463.4" cy="528.0" rx="8.0" ry="6.4" transform="rotate(176 463.4 528.0)" fill="#7a4a1c" stroke="#2a190c" stroke-width="1.6"/>
<ellipse cx="404.9" cy="563.1" rx="8.8" ry="6.5" transform="rotate(143 404.9 563.1)" fill="#7a4a1c" stroke="#2a190c" stroke-width="1.6"/>
<ellipse cx="353.3" cy="463.9" rx="9.4" ry="6.1" transform="rotate(173 353.3 463.9)" fill="#7a4a1c" stroke="#2a190c" stroke-width="1.6"/>
<ellipse cx="416.7" cy="437.8" rx="8.8" ry="8.6" transform="rotate(90 416.7 437.8)" fill="#7a4a1c" stroke="#2a190c" stroke-width="1.6"/>
<ellipse cx="433.2" cy="467.4" rx="7.6" ry="8.1" transform="rotate(148 433.2 467.4)" fill="#7a4a1c" stroke="#2a190c" stroke-width="1.6"/>
<ellipse cx="359.3" cy="505.7" rx="7.8" ry="6.1" transform="rotate(109 359.3 505.7)" fill="#7a4a1c" stroke="#2a190c" stroke-width="1.6"/>
<ellipse cx="328.0" cy="537.9" rx="8.6" ry="8.1" transform="rotate(99 328.0 537.9)" fill="#7a4a1c" stroke="#2a190c" stroke-width="1.6"/>
<ellipse cx="376.8" cy="410.8" rx="8.1" ry="8.5" transform="rotate(60 376.8 410.8)" fill="#7a4a1c" stroke="#2a190c" stroke-width="1.6"/>
<ellipse cx="387.9" cy="422.6" rx="8.2" ry="5.5" transform="rotate(115 387.9 422.6)" fill="#7a4a1c" stroke="#2a190c" stroke-width="1.6"/>
<ellipse cx="420.3" cy="565.5" rx="8.9" ry="6.7" transform="rotate(139 420.3 565.5)" fill="#7a4a1c" stroke="#2a190c" stroke-width="1.6"/>
<ellipse cx="361.7" cy="460.9" rx="8.7" ry="6.0" transform="rotate(87 361.7 460.9)" fill="#7a4a1c" stroke="#2a190c" stroke-width="1.6"/>
<ellipse cx="440.3" cy="506.2" rx="8.3" ry="7.0" transform="rotate(160 440.3 506.2)" fill="#7a4a1c" stroke="#2a190c" stroke-width="1.6"/>
<ellipse cx="350.2" cy="424.5" rx="8.6" ry="5.7" transform="rotate(156 350.2 424.5)" fill="#7a4a1c" stroke="#2a190c" stroke-width="1.6"/>
<ellipse cx="430.6" cy="424.1" rx="8.7" ry="7.8" transform="rotate(146 430.6 424.1)" fill="#7a4a1c" stroke="#2a190c" stroke-width="1.6"/>
<ellipse cx="392.7" cy="475.9" rx="7.6" ry="6.8" transform="rotate(125 392.7 475.9)" fill="#7a4a1c" stroke="#2a190c" stroke-width="1.6"/>
<ellipse cx="424.8" cy="564.8" rx="8.7" ry="4.6" transform="rotate(89 424.8 564.8)" fill="#7a4a1c" stroke="#2a190c" stroke-width="1.6"/>
<ellipse cx="404.6" cy="421.3" rx="8.8" ry="8.8" transform="rotate(23 404.6 421.3)" fill="#7a4a1c" stroke="#2a190c" stroke-width="1.6"/>
<ellipse cx="432.8" cy="509.3" rx="8.3" ry="6.6" transform="rotate(45 432.8 509.3)" fill="#7a4a1c" stroke="#2a190c" stroke-width="1.6"/>
<ellipse cx="366.9" cy="493.7" rx="8.8" ry="4.6" transform="rotate(43 366.9 493.7)" fill="#7a4a1c" stroke="#2a190c" stroke-width="1.6"/>
<ellipse cx="344.1" cy="488.2" rx="8.5" ry="5.1" transform="rotate(78 344.1 488.2)" fill="#7a4a1c" stroke="#2a190c" stroke-width="1.6"/>
<ellipse cx="417.5" cy="504.9" rx="7.7" ry="5.6" transform="rotate(144 417.5 504.9)" fill="#7a4a1c" stroke="#2a190c" stroke-width="1.6"/>
<ellipse cx="443.8" cy="531.3" rx="7.9" ry="7.3" transform="rotate(143 443.8 531.3)" fill="#7a4a1c" stroke="#2a190c" stroke-width="1.6"/>
<ellipse cx="425.3" cy="556.4" rx="8.8" ry="8.6" transform="rotate(54 425.3 556.4)" fill="#7a4a1c" stroke="#2a190c" stroke-width="1.6"/>
<ellipse cx="446.2" cy="524.3" rx="9.2" ry="8.4" transform="rotate(18 446.2 524.3)" fill="#7a4a1c" stroke="#2a190c" stroke-width="1.6"/>
<ellipse cx="463.6" cy="507.0" rx="9.2" ry="6.9" transform="rotate(31 463.6 507.0)" fill="#7a4a1c" stroke="#2a190c" stroke-width="1.6"/>
<ellipse cx="398.1" cy="524.1" rx="8.1" ry="6.1" transform="rotate(105 398.1 524.1)" fill="#7a4a1c" stroke="#2a190c" stroke-width="1.6"/>
<ellipse cx="470.7" cy="505.8" rx="9.3" ry="4.7" transform="rotate(179 470.7 505.8)" fill="#7a4a1c" stroke="#2a190c" stroke-width="1.6"/>
<ellipse cx="412.1" cy="504.0" rx="8.6" ry="5.7" transform="rotate(48 412.1 504.0)" fill="#7a4a1c" stroke="#2a190c" stroke-width="1.6"/>
<ellipse cx="379.0" cy="404.9" rx="7.9" ry="6.5" transform="rotate(80 379.0 404.9)" fill="#7a4a1c" stroke="#2a190c" stroke-width="1.6"/>
<ellipse cx="478.0" cy="470.6" rx="9.4" ry="8.2" transform="rotate(175 478.0 470.6)" fill="#7a4a1c" stroke="#2a190c" stroke-width="1.6"/>
<ellipse cx="348.6" cy="502.7" rx="8.7" ry="6.3" transform="rotate(29 348.6 502.7)" fill="#7a4a1c" stroke="#2a190c" stroke-width="1.6"/>
<ellipse cx="452.6" cy="467.3" rx="9.4" ry="6.6" transform="rotate(50 452.6 467.3)" fill="#7a4a1c" stroke="#2a190c" stroke-width="1.6"/>
<ellipse cx="434.2" cy="480.6" rx="9.0" ry="6.7" transform="rotate(75 434.2 480.6)" fill="#7a4a1c" stroke="#2a190c" stroke-width="1.6"/>
<ellipse cx="396.1" cy="522.2" rx="10.5" ry="10.1" transform="rotate(113 396.1 522.2)" fill="#20130a" opacity="0.75"/>
<ellipse cx="394.9" cy="520.0" rx="9.7" ry="9.3" transform="rotate(113 394.9 520.0)" fill="url(#kb2)"/>
<ellipse cx="461.6" cy="447.3" rx="10.0" ry="9.4" transform="rotate(156 461.6 447.3)" fill="#20130a" opacity="0.75"/>
<ellipse cx="460.4" cy="445.1" rx="9.2" ry="8.6" transform="rotate(156 460.4 445.1)" fill="url(#kb2)"/>
<ellipse cx="419.7" cy="445.9" rx="9.6" ry="9.6" transform="rotate(97 419.7 445.9)" fill="#20130a" opacity="0.75"/>
<ellipse cx="418.5" cy="443.7" rx="8.8" ry="8.8" transform="rotate(97 418.5 443.7)" fill="url(#kb3)"/>
<ellipse cx="389.5" cy="428.9" rx="10.2" ry="10.0" transform="rotate(122 389.5 428.9)" fill="#20130a" opacity="0.75"/>
<ellipse cx="388.3" cy="426.7" rx="9.4" ry="9.2" transform="rotate(122 388.3 426.7)" fill="url(#kb3)"/>
<ellipse cx="405.6" cy="427.4" rx="9.7" ry="8.1" transform="rotate(135 405.6 427.4)" fill="#20130a" opacity="0.75"/>
<ellipse cx="404.4" cy="427.0" rx="8.9" ry="7.3" transform="rotate(135 404.4 427.0)" fill="#865220"/>
<ellipse cx="404.4" cy="425.2" rx="8.9" ry="7.3" transform="rotate(135 404.4 425.2)" fill="url(#kb3)"/>
<ellipse cx="422.9" cy="540.0" rx="9.7" ry="9.2" transform="rotate(127 422.9 540.0)" fill="#20130a" opacity="0.75"/>
<ellipse cx="421.7" cy="537.8" rx="8.9" ry="8.4" transform="rotate(127 421.7 537.8)" fill="url(#kb2)"/>
<ellipse cx="379.4" cy="539.5" rx="10.1" ry="6.1" transform="rotate(132 379.4 539.5)" fill="#20130a" opacity="0.75"/>
<ellipse cx="378.2" cy="539.1" rx="9.3" ry="5.3" transform="rotate(132 378.2 539.1)" fill="#865220"/>
<ellipse cx="378.2" cy="537.3" rx="9.3" ry="5.3" transform="rotate(132 378.2 537.3)" fill="url(#kb)"/>
<ellipse cx="392.5" cy="575.0" rx="10.7" ry="10.2" transform="rotate(130 392.5 575.0)" fill="#20130a" opacity="0.75"/>
<ellipse cx="391.3" cy="572.8" rx="9.9" ry="9.4" transform="rotate(130 391.3 572.8)" fill="url(#kb)"/>
<ellipse cx="430.1" cy="468.1" rx="9.9" ry="8.0" transform="rotate(72 430.1 468.1)" fill="#20130a" opacity="0.75"/>
<ellipse cx="428.9" cy="467.7" rx="9.1" ry="7.2" transform="rotate(72 428.9 467.7)" fill="#865220"/>
<ellipse cx="428.9" cy="465.9" rx="9.1" ry="7.2" transform="rotate(72 428.9 465.9)" fill="url(#kb2)"/>
<ellipse cx="355.1" cy="429.2" rx="10.5" ry="8.8" transform="rotate(13 355.1 429.2)" fill="#20130a" opacity="0.75"/>
<ellipse cx="353.9" cy="428.8" rx="9.7" ry="8.0" transform="rotate(13 353.9 428.8)" fill="#865220"/>
<ellipse cx="353.9" cy="427.0" rx="9.7" ry="8.0" transform="rotate(13 353.9 427.0)" fill="url(#kb3)"/>
<ellipse cx="447.1" cy="542.5" rx="10.3" ry="9.6" transform="rotate(123 447.1 542.5)" fill="#20130a" opacity="0.75"/>
<ellipse cx="445.9" cy="540.3" rx="9.5" ry="8.8" transform="rotate(123 445.9 540.3)" fill="url(#kb3)"/>
<ellipse cx="432.0" cy="441.9" rx="9.8" ry="9.7" transform="rotate(48 432.0 441.9)" fill="#20130a" opacity="0.75"/>
<ellipse cx="430.8" cy="439.7" rx="9.0" ry="8.9" transform="rotate(48 430.8 439.7)" fill="url(#kb)"/>
<ellipse cx="406.2" cy="407.6" rx="9.7" ry="9.5" transform="rotate(161 406.2 407.6)" fill="#20130a" opacity="0.75"/>
<ellipse cx="405.0" cy="405.4" rx="8.9" ry="8.7" transform="rotate(161 405.0 405.4)" fill="url(#kb2)"/>
<ellipse cx="380.9" cy="572.1" rx="10.0" ry="6.5" transform="rotate(77 380.9 572.1)" fill="#20130a" opacity="0.75"/>
<ellipse cx="379.7" cy="571.7" rx="9.2" ry="5.7" transform="rotate(77 379.7 571.7)" fill="#865220"/>
<ellipse cx="379.7" cy="569.9" rx="9.2" ry="5.7" transform="rotate(77 379.7 569.9)" fill="url(#kb2)"/>
<ellipse cx="407.9" cy="523.3" rx="9.5" ry="5.8" transform="rotate(83 407.9 523.3)" fill="#20130a" opacity="0.75"/>
<ellipse cx="406.7" cy="522.9" rx="8.7" ry="5.0" transform="rotate(83 406.7 522.9)" fill="#865220"/>
<ellipse cx="406.7" cy="521.1" rx="8.7" ry="5.0" transform="rotate(83 406.7 521.1)" fill="url(#kb)"/>
<ellipse cx="404.5" cy="570.5" rx="10.0" ry="9.9" transform="rotate(2 404.5 570.5)" fill="#20130a" opacity="0.75"/>
<ellipse cx="403.3" cy="568.3" rx="9.2" ry="9.1" transform="rotate(2 403.3 568.3)" fill="url(#kb3)"/>
<ellipse cx="415.8" cy="554.7" rx="9.6" ry="8.9" transform="rotate(39 415.8 554.7)" fill="#20130a" opacity="0.75"/>
<ellipse cx="414.6" cy="552.5" rx="8.8" ry="8.1" transform="rotate(39 414.6 552.5)" fill="url(#kb)"/>
<ellipse cx="382.0" cy="497.7" rx="9.4" ry="7.5" transform="rotate(72 382.0 497.7)" fill="#20130a" opacity="0.75"/>
<ellipse cx="380.8" cy="497.3" rx="8.6" ry="6.7" transform="rotate(72 380.8 497.3)" fill="#865220"/>
<ellipse cx="380.8" cy="495.5" rx="8.6" ry="6.7" transform="rotate(72 380.8 495.5)" fill="url(#kb)"/>
<ellipse cx="402.0" cy="556.3" rx="9.7" ry="5.7" transform="rotate(151 402.0 556.3)" fill="#20130a" opacity="0.75"/>
<ellipse cx="400.8" cy="555.9" rx="8.9" ry="4.9" transform="rotate(151 400.8 555.9)" fill="#865220"/>
<ellipse cx="400.8" cy="554.1" rx="8.9" ry="4.9" transform="rotate(151 400.8 554.1)" fill="url(#kb2)"/>
<ellipse cx="328.0" cy="451.2" rx="10.7" ry="9.9" transform="rotate(14 328.0 451.2)" fill="#20130a" opacity="0.75"/>
<ellipse cx="326.8" cy="449.0" rx="9.9" ry="9.1" transform="rotate(14 326.8 449.0)" fill="url(#kb3)"/>
<ellipse cx="374.3" cy="470.1" rx="9.9" ry="9.2" transform="rotate(154 374.3 470.1)" fill="#20130a" opacity="0.75"/>
<ellipse cx="373.1" cy="467.9" rx="9.1" ry="8.4" transform="rotate(154 373.1 467.9)" fill="url(#kb)"/>
<ellipse cx="457.5" cy="513.3" rx="9.7" ry="8.8" transform="rotate(60 457.5 513.3)" fill="#20130a" opacity="0.75"/>
<ellipse cx="456.3" cy="511.1" rx="8.9" ry="8.0" transform="rotate(60 456.3 511.1)" fill="url(#kb2)"/>
<ellipse cx="444.9" cy="421.7" rx="10.4" ry="10.1" transform="rotate(80 444.9 421.7)" fill="#20130a" opacity="0.75"/>
<ellipse cx="443.7" cy="419.5" rx="9.6" ry="9.3" transform="rotate(80 443.7 419.5)" fill="url(#kb2)"/>
<ellipse cx="335.3" cy="467.4" rx="10.7" ry="9.7" transform="rotate(44 335.3 467.4)" fill="#20130a" opacity="0.75"/>
<ellipse cx="334.1" cy="465.2" rx="9.9" ry="8.9" transform="rotate(44 334.1 465.2)" fill="url(#kb2)"/>
<ellipse cx="316.0" cy="503.1" rx="10.7" ry="10.4" transform="rotate(19 316.0 503.1)" fill="#20130a" opacity="0.75"/>
<ellipse cx="314.8" cy="500.9" rx="9.9" ry="9.6" transform="rotate(19 314.8 500.9)" fill="url(#kb2)"/>
<ellipse cx="388.9" cy="508.2" rx="10.3" ry="7.6" transform="rotate(138 388.9 508.2)" fill="#20130a" opacity="0.75"/>
<ellipse cx="387.7" cy="507.8" rx="9.5" ry="6.8" transform="rotate(138 387.7 507.8)" fill="#865220"/>
<ellipse cx="387.7" cy="506.0" rx="9.5" ry="6.8" transform="rotate(138 387.7 506.0)" fill="url(#kb2)"/>
<ellipse cx="329.2" cy="527.1" rx="9.4" ry="8.7" transform="rotate(81 329.2 527.1)" fill="#20130a" opacity="0.75"/>
<ellipse cx="328.0" cy="524.9" rx="8.6" ry="7.9" transform="rotate(81 328.0 524.9)" fill="url(#kb)"/>
<ellipse cx="378.8" cy="485.4" rx="10.2" ry="9.3" transform="rotate(55 378.8 485.4)" fill="#20130a" opacity="0.75"/>
<ellipse cx="377.6" cy="483.2" rx="9.4" ry="8.5" transform="rotate(55 377.6 483.2)" fill="url(#kb)"/>
<ellipse cx="350.3" cy="439.8" rx="10.3" ry="9.7" transform="rotate(109 350.3 439.8)" fill="#20130a" opacity="0.75"/>
<ellipse cx="349.1" cy="437.6" rx="9.5" ry="8.9" transform="rotate(109 349.1 437.6)" fill="url(#kb2)"/>
<ellipse cx="468.2" cy="543.6" rx="9.7" ry="5.9" transform="rotate(171 468.2 543.6)" fill="#20130a" opacity="0.75"/>
<ellipse cx="467.0" cy="543.2" rx="8.9" ry="5.1" transform="rotate(171 467.0 543.2)" fill="#865220"/>
<ellipse cx="467.0" cy="541.4" rx="8.9" ry="5.1" transform="rotate(171 467.0 541.4)" fill="url(#kb2)"/>
<ellipse cx="469.2" cy="531.3" rx="9.6" ry="9.3" transform="rotate(95 469.2 531.3)" fill="#20130a" opacity="0.75"/>
<ellipse cx="468.0" cy="529.1" rx="8.8" ry="8.5" transform="rotate(95 468.0 529.1)" fill="url(#kb)"/>
<ellipse cx="468.8" cy="471.1" rx="9.7" ry="9.5" transform="rotate(70 468.8 471.1)" fill="#20130a" opacity="0.75"/>
<ellipse cx="467.6" cy="468.9" rx="8.9" ry="8.7" transform="rotate(70 467.6 468.9)" fill="url(#kb)"/>
<ellipse cx="409.2" cy="439.4" rx="9.9" ry="9.1" transform="rotate(118 409.2 439.4)" fill="#20130a" opacity="0.75"/>
<ellipse cx="408.0" cy="437.2" rx="9.1" ry="8.3" transform="rotate(118 408.0 437.2)" fill="url(#kb3)"/>
<ellipse cx="456.0" cy="551.4" rx="9.9" ry="9.3" transform="rotate(163 456.0 551.4)" fill="#20130a" opacity="0.75"/>
<ellipse cx="454.8" cy="549.2" rx="9.1" ry="8.5" transform="rotate(163 454.8 549.2)" fill="url(#kb2)"/>
<ellipse cx="368.2" cy="517.8" rx="10.5" ry="10.0" transform="rotate(26 368.2 517.8)" fill="#20130a" opacity="0.75"/>
<ellipse cx="367.0" cy="515.6" rx="9.7" ry="9.2" transform="rotate(26 367.0 515.6)" fill="url(#kb3)"/>
<ellipse cx="468.6" cy="508.7" rx="9.9" ry="9.6" transform="rotate(51 468.6 508.7)" fill="#20130a" opacity="0.75"/>
<ellipse cx="467.4" cy="506.5" rx="9.1" ry="8.8" transform="rotate(51 467.4 506.5)" fill="url(#kb3)"/>
<ellipse cx="358.2" cy="494.2" rx="10.7" ry="8.6" transform="rotate(52 358.2 494.2)" fill="#20130a" opacity="0.75"/>
<ellipse cx="357.0" cy="493.8" rx="9.9" ry="7.8" transform="rotate(52 357.0 493.8)" fill="#865220"/>
<ellipse cx="357.0" cy="492.0" rx="9.9" ry="7.8" transform="rotate(52 357.0 492.0)" fill="url(#kb)"/>
<ellipse cx="434.6" cy="429.7" rx="10.6" ry="10.5" transform="rotate(24 434.6 429.7)" fill="#20130a" opacity="0.75"/>
<ellipse cx="433.4" cy="427.5" rx="9.8" ry="9.7" transform="rotate(24 433.4 427.5)" fill="url(#kb3)"/>
<ellipse cx="418.3" cy="528.4" rx="10.1" ry="8.0" transform="rotate(3 418.3 528.4)" fill="#20130a" opacity="0.75"/>
<ellipse cx="417.1" cy="528.0" rx="9.3" ry="7.2" transform="rotate(3 417.1 528.0)" fill="#865220"/>
<ellipse cx="417.1" cy="526.2" rx="9.3" ry="7.2" transform="rotate(3 417.1 526.2)" fill="url(#kb3)"/>
<ellipse cx="448.0" cy="506.6" rx="9.7" ry="7.5" transform="rotate(152 448.0 506.6)" fill="#20130a" opacity="0.75"/>
<ellipse cx="446.8" cy="506.2" rx="8.9" ry="6.7" transform="rotate(152 446.8 506.2)" fill="#865220"/>
<ellipse cx="446.8" cy="504.4" rx="8.9" ry="6.7" transform="rotate(152 446.8 504.4)" fill="url(#kb3)"/>
<ellipse cx="321.7" cy="467.2" rx="10.3" ry="7.4" transform="rotate(122 321.7 467.2)" fill="#20130a" opacity="0.75"/>
<ellipse cx="320.5" cy="466.8" rx="9.5" ry="6.6" transform="rotate(122 320.5 466.8)" fill="#865220"/>
<ellipse cx="320.5" cy="465.0" rx="9.5" ry="6.6" transform="rotate(122 320.5 465.0)" fill="url(#kb)"/>
<ellipse cx="365.5" cy="451.8" rx="10.7" ry="10.2" transform="rotate(43 365.5 451.8)" fill="#20130a" opacity="0.75"/>
<ellipse cx="364.3" cy="449.6" rx="9.9" ry="9.4" transform="rotate(43 364.3 449.6)" fill="url(#kb)"/>
<ellipse cx="361.0" cy="558.0" rx="10.3" ry="9.9" transform="rotate(136 361.0 558.0)" fill="#20130a" opacity="0.75"/>
<ellipse cx="359.8" cy="555.8" rx="9.5" ry="9.1" transform="rotate(136 359.8 555.8)" fill="url(#kb)"/>
<ellipse cx="338.9" cy="510.1" rx="9.8" ry="6.2" transform="rotate(39 338.9 510.1)" fill="#20130a" opacity="0.75"/>
<ellipse cx="337.7" cy="509.7" rx="9.0" ry="5.4" transform="rotate(39 337.7 509.7)" fill="#865220"/>
<ellipse cx="337.7" cy="507.9" rx="9.0" ry="5.4" transform="rotate(39 337.7 507.9)" fill="url(#kb2)"/>
<ellipse cx="375.0" cy="528.3" rx="10.3" ry="6.9" transform="rotate(19 375.0 528.3)" fill="#20130a" opacity="0.75"/>
<ellipse cx="373.8" cy="527.9" rx="9.5" ry="6.1" transform="rotate(19 373.8 527.9)" fill="#865220"/>
<ellipse cx="373.8" cy="526.1" rx="9.5" ry="6.1" transform="rotate(19 373.8 526.1)" fill="url(#kb)"/>
<ellipse cx="371.4" cy="563.6" rx="10.6" ry="9.8" transform="rotate(170 371.4 563.6)" fill="#20130a" opacity="0.75"/>
<ellipse cx="370.2" cy="561.4" rx="9.8" ry="9.0" transform="rotate(170 370.2 561.4)" fill="url(#kb)"/>
<ellipse cx="361.6" cy="418.4" rx="10.4" ry="9.6" transform="rotate(155 361.6 418.4)" fill="#20130a" opacity="0.75"/>
<ellipse cx="360.4" cy="416.2" rx="9.6" ry="8.8" transform="rotate(155 360.4 416.2)" fill="url(#kb2)"/>
<ellipse cx="356.7" cy="525.4" rx="10.6" ry="6.4" transform="rotate(150 356.7 525.4)" fill="#20130a" opacity="0.75"/>
<ellipse cx="355.5" cy="525.0" rx="9.8" ry="5.6" transform="rotate(150 355.5 525.0)" fill="#865220"/>
<ellipse cx="355.5" cy="523.2" rx="9.8" ry="5.6" transform="rotate(150 355.5 523.2)" fill="url(#kb)"/>
<ellipse cx="394.6" cy="492.0" rx="10.0" ry="6.1" transform="rotate(93 394.6 492.0)" fill="#20130a" opacity="0.75"/>
<ellipse cx="393.4" cy="491.6" rx="9.2" ry="5.3" transform="rotate(93 393.4 491.6)" fill="#865220"/>
<ellipse cx="393.4" cy="489.8" rx="9.2" ry="5.3" transform="rotate(93 393.4 489.8)" fill="url(#kb)"/>
<ellipse cx="432.1" cy="413.3" rx="10.5" ry="8.1" transform="rotate(52 432.1 413.3)" fill="#20130a" opacity="0.75"/>
<ellipse cx="430.9" cy="412.9" rx="9.7" ry="7.3" transform="rotate(52 430.9 412.9)" fill="#865220"/>
<ellipse cx="430.9" cy="411.1" rx="9.7" ry="7.3" transform="rotate(52 430.9 411.1)" fill="url(#kb)"/>
<ellipse cx="384.9" cy="559.5" rx="10.5" ry="8.9" transform="rotate(78 384.9 559.5)" fill="#20130a" opacity="0.75"/>
<ellipse cx="383.7" cy="559.1" rx="9.7" ry="8.1" transform="rotate(78 383.7 559.1)" fill="#865220"/>
<ellipse cx="383.7" cy="557.3" rx="9.7" ry="8.1" transform="rotate(78 383.7 557.3)" fill="url(#kb3)"/>
<ellipse cx="416.2" cy="461.6" rx="10.2" ry="8.4" transform="rotate(164 416.2 461.6)" fill="#20130a" opacity="0.75"/>
<ellipse cx="415.0" cy="461.2" rx="9.4" ry="7.6" transform="rotate(164 415.0 461.2)" fill="#865220"/>
<ellipse cx="415.0" cy="459.4" rx="9.4" ry="7.6" transform="rotate(164 415.0 459.4)" fill="url(#kb)"/>
<ellipse cx="373.5" cy="551.7" rx="10.3" ry="7.4" transform="rotate(107 373.5 551.7)" fill="#20130a" opacity="0.75"/>
<ellipse cx="372.3" cy="551.3" rx="9.5" ry="6.6" transform="rotate(107 372.3 551.3)" fill="#865220"/>
<ellipse cx="372.3" cy="549.5" rx="9.5" ry="6.6" transform="rotate(107 372.3 549.5)" fill="url(#kb2)"/>
<ellipse cx="337.8" cy="444.0" rx="10.1" ry="8.2" transform="rotate(131 337.8 444.0)" fill="#20130a" opacity="0.75"/>
<ellipse cx="336.6" cy="443.6" rx="9.3" ry="7.4" transform="rotate(131 336.6 443.6)" fill="#865220"/>
<ellipse cx="336.6" cy="441.8" rx="9.3" ry="7.4" transform="rotate(131 336.6 441.8)" fill="url(#kb3)"/>
<ellipse cx="444.0" cy="477.8" rx="9.7" ry="7.8" transform="rotate(21 444.0 477.8)" fill="#20130a" opacity="0.75"/>
<ellipse cx="442.8" cy="477.4" rx="8.9" ry="7.0" transform="rotate(21 442.8 477.4)" fill="#865220"/>
<ellipse cx="442.8" cy="475.6" rx="8.9" ry="7.0" transform="rotate(21 442.8 475.6)" fill="url(#kb)"/>
<ellipse cx="393.5" cy="463.4" rx="9.4" ry="9.0" transform="rotate(108 393.5 463.4)" fill="#20130a" opacity="0.75"/>
<ellipse cx="392.3" cy="461.2" rx="8.6" ry="8.2" transform="rotate(108 392.3 461.2)" fill="url(#kb)"/>
<ellipse cx="393.6" cy="446.3" rx="10.0" ry="9.3" transform="rotate(23 393.6 446.3)" fill="#20130a" opacity="0.75"/>
<ellipse cx="392.4" cy="444.1" rx="9.2" ry="8.5" transform="rotate(23 392.4 444.1)" fill="url(#kb2)"/>
<ellipse cx="479.9" cy="504.4" rx="10.6" ry="7.4" transform="rotate(161 479.9 504.4)" fill="#20130a" opacity="0.75"/>
<ellipse cx="478.7" cy="504.0" rx="9.8" ry="6.6" transform="rotate(161 478.7 504.0)" fill="#865220"/>
<ellipse cx="478.7" cy="502.2" rx="9.8" ry="6.6" transform="rotate(161 478.7 502.2)" fill="url(#kb3)"/>
<ellipse cx="434.7" cy="540.4" rx="9.5" ry="6.9" transform="rotate(105 434.7 540.4)" fill="#20130a" opacity="0.75"/>
<ellipse cx="433.5" cy="540.0" rx="8.7" ry="6.1" transform="rotate(105 433.5 540.0)" fill="#865220"/>
<ellipse cx="433.5" cy="538.2" rx="8.7" ry="6.1" transform="rotate(105 433.5 538.2)" fill="url(#kb3)"/>
<ellipse cx="457.2" cy="488.1" rx="9.5" ry="9.4" transform="rotate(90 457.2 488.1)" fill="#20130a" opacity="0.75"/>
<ellipse cx="456.0" cy="485.9" rx="8.7" ry="8.6" transform="rotate(90 456.0 485.9)" fill="url(#kb)"/>
<ellipse cx="363.5" cy="440.0" rx="9.9" ry="9.5" transform="rotate(83 363.5 440.0)" fill="#20130a" opacity="0.75"/>
<ellipse cx="362.3" cy="437.8" rx="9.1" ry="8.7" transform="rotate(83 362.3 437.8)" fill="url(#kb3)"/>
<ellipse cx="346.0" cy="537.5" rx="9.5" ry="8.7" transform="rotate(24 346.0 537.5)" fill="#20130a" opacity="0.75"/>
<ellipse cx="344.8" cy="535.3" rx="8.7" ry="7.9" transform="rotate(24 344.8 535.3)" fill="url(#kb)"/>
<ellipse cx="389.6" cy="545.8" rx="9.9" ry="7.1" transform="rotate(160 389.6 545.8)" fill="#20130a" opacity="0.75"/>
<ellipse cx="388.4" cy="545.4" rx="9.1" ry="6.3" transform="rotate(160 388.4 545.4)" fill="#865220"/>
<ellipse cx="388.4" cy="543.6" rx="9.1" ry="6.3" transform="rotate(160 388.4 543.6)" fill="url(#kb2)"/>
<ellipse cx="331.6" cy="485.2" rx="10.2" ry="7.2" transform="rotate(101 331.6 485.2)" fill="#20130a" opacity="0.75"/>
<ellipse cx="330.4" cy="484.8" rx="9.4" ry="6.4" transform="rotate(101 330.4 484.8)" fill="#865220"/>
<ellipse cx="330.4" cy="483.0" rx="9.4" ry="6.4" transform="rotate(101 330.4 483.0)" fill="url(#kb)"/>
<ellipse cx="397.5" cy="480.0" rx="9.5" ry="7.2" transform="rotate(142 397.5 480.0)" fill="#20130a" opacity="0.75"/>
<ellipse cx="396.3" cy="479.6" rx="8.7" ry="6.4" transform="rotate(142 396.3 479.6)" fill="#865220"/>
<ellipse cx="396.3" cy="477.8" rx="8.7" ry="6.4" transform="rotate(142 396.3 477.8)" fill="url(#kb)"/>
<ellipse cx="361.6" cy="542.7" rx="10.1" ry="7.7" transform="rotate(18 361.6 542.7)" fill="#20130a" opacity="0.75"/>
<ellipse cx="360.4" cy="542.3" rx="9.3" ry="6.9" transform="rotate(18 360.4 542.3)" fill="#865220"/>
<ellipse cx="360.4" cy="540.5" rx="9.3" ry="6.9" transform="rotate(18 360.4 540.5)" fill="url(#kb)"/>
<ellipse cx="374.0" cy="415.9" rx="10.0" ry="9.7" transform="rotate(40 374.0 415.9)" fill="#20130a" opacity="0.75"/>
<ellipse cx="372.8" cy="413.7" rx="9.2" ry="8.9" transform="rotate(40 372.8 413.7)" fill="url(#kb)"/>
<ellipse cx="415.7" cy="573.4" rx="9.9" ry="7.8" transform="rotate(62 415.7 573.4)" fill="#20130a" opacity="0.75"/>
<ellipse cx="414.5" cy="573.0" rx="9.1" ry="7.0" transform="rotate(62 414.5 573.0)" fill="#865220"/>
<ellipse cx="414.5" cy="571.2" rx="9.1" ry="7.0" transform="rotate(62 414.5 571.2)" fill="url(#kb3)"/>
<ellipse cx="432.8" cy="567.5" rx="9.9" ry="6.2" transform="rotate(76 432.8 567.5)" fill="#20130a" opacity="0.75"/>
<ellipse cx="431.6" cy="567.1" rx="9.1" ry="5.4" transform="rotate(76 431.6 567.1)" fill="#865220"/>
<ellipse cx="431.6" cy="565.3" rx="9.1" ry="5.4" transform="rotate(76 431.6 565.3)" fill="url(#kb)"/>
<ellipse cx="458.1" cy="499.9" rx="10.4" ry="7.3" transform="rotate(136 458.1 499.9)" fill="#20130a" opacity="0.75"/>
<ellipse cx="456.9" cy="499.5" rx="9.6" ry="6.5" transform="rotate(136 456.9 499.5)" fill="#865220"/>
<ellipse cx="456.9" cy="497.7" rx="9.6" ry="6.5" transform="rotate(136 456.9 497.7)" fill="url(#kb2)"/>
<ellipse cx="418.2" cy="489.0" rx="10.4" ry="7.9" transform="rotate(70 418.2 489.0)" fill="#20130a" opacity="0.75"/>
<ellipse cx="417.0" cy="488.6" rx="9.6" ry="7.1" transform="rotate(70 417.0 488.6)" fill="#865220"/>
<ellipse cx="417.0" cy="486.8" rx="9.6" ry="7.1" transform="rotate(70 417.0 486.8)" fill="url(#kb)"/>
<ellipse cx="423.3" cy="502.6" rx="10.3" ry="9.7" transform="rotate(171 423.3 502.6)" fill="#20130a" opacity="0.75"/>
<ellipse cx="422.1" cy="500.4" rx="9.5" ry="8.9" transform="rotate(171 422.1 500.4)" fill="url(#kb)"/>
<ellipse cx="432.2" cy="495.0" rx="9.9" ry="7.8" transform="rotate(143 432.2 495.0)" fill="#20130a" opacity="0.75"/>
<ellipse cx="431.0" cy="494.6" rx="9.1" ry="7.0" transform="rotate(143 431.0 494.6)" fill="#865220"/>
<ellipse cx="431.0" cy="492.8" rx="9.1" ry="7.0" transform="rotate(143 431.0 492.8)" fill="url(#kb3)"/>
<ellipse cx="410.3" cy="542.4" rx="10.1" ry="7.6" transform="rotate(89 410.3 542.4)" fill="#20130a" opacity="0.75"/>
<ellipse cx="409.1" cy="542.0" rx="9.3" ry="6.8" transform="rotate(89 409.1 542.0)" fill="#865220"/>
<ellipse cx="409.1" cy="540.2" rx="9.3" ry="6.8" transform="rotate(89 409.1 540.2)" fill="url(#kb3)"/>
<ellipse cx="319.3" cy="521.0" rx="10.6" ry="10.4" transform="rotate(114 319.3 521.0)" fill="#20130a" opacity="0.75"/>
<ellipse cx="318.1" cy="518.8" rx="9.8" ry="9.6" transform="rotate(114 318.1 518.8)" fill="url(#kb)"/>
<ellipse cx="437.7" cy="556.7" rx="10.1" ry="8.2" transform="rotate(161 437.7 556.7)" fill="#20130a" opacity="0.75"/>
<ellipse cx="436.5" cy="556.3" rx="9.3" ry="7.4" transform="rotate(161 436.5 556.3)" fill="#865220"/>
<ellipse cx="436.5" cy="554.5" rx="9.3" ry="7.4" transform="rotate(161 436.5 554.5)" fill="url(#kb2)"/>
<ellipse cx="366.8" cy="485.9" rx="9.8" ry="9.1" transform="rotate(46 366.8 485.9)" fill="#20130a" opacity="0.75"/>
<ellipse cx="365.6" cy="483.7" rx="9.0" ry="8.3" transform="rotate(46 365.6 483.7)" fill="url(#kb2)"/>
<ellipse cx="391.7" cy="415.3" rx="9.4" ry="6.0" transform="rotate(145 391.7 415.3)" fill="#20130a" opacity="0.75"/>
<ellipse cx="390.5" cy="414.9" rx="8.6" ry="5.2" transform="rotate(145 390.5 414.9)" fill="#865220"/>
<ellipse cx="390.5" cy="413.1" rx="8.6" ry="5.2" transform="rotate(145 390.5 413.1)" fill="url(#kb2)"/>
<ellipse cx="429.1" cy="456.1" rx="9.7" ry="9.6" transform="rotate(58 429.1 456.1)" fill="#20130a" opacity="0.75"/>
<ellipse cx="427.9" cy="453.9" rx="8.9" ry="8.8" transform="rotate(58 427.9 453.9)" fill="url(#kb)"/>
<ellipse cx="370.3" cy="497.9" rx="10.5" ry="8.7" transform="rotate(124 370.3 497.9)" fill="#20130a" opacity="0.75"/>
<ellipse cx="369.1" cy="497.5" rx="9.7" ry="7.9" transform="rotate(124 369.1 497.5)" fill="#865220"/>
<ellipse cx="369.1" cy="495.7" rx="9.7" ry="7.9" transform="rotate(124 369.1 495.7)" fill="url(#kb)"/>
<ellipse cx="454.4" cy="437.7" rx="10.3" ry="8.1" transform="rotate(107 454.4 437.7)" fill="#20130a" opacity="0.75"/>
<ellipse cx="453.2" cy="437.3" rx="9.5" ry="7.3" transform="rotate(107 453.2 437.3)" fill="#865220"/>
<ellipse cx="453.2" cy="435.5" rx="9.5" ry="7.3" transform="rotate(107 453.2 435.5)" fill="url(#kb)"/>
<ellipse cx="473.6" cy="448.3" rx="10.5" ry="7.2" transform="rotate(53 473.6 448.3)" fill="#20130a" opacity="0.75"/>
<ellipse cx="472.4" cy="447.9" rx="9.7" ry="6.4" transform="rotate(53 472.4 447.9)" fill="#865220"/>
<ellipse cx="472.4" cy="446.1" rx="9.7" ry="6.4" transform="rotate(53 472.4 446.1)" fill="url(#kb)"/>
<ellipse cx="444.3" cy="493.1" rx="10.7" ry="10.5" transform="rotate(128 444.3 493.1)" fill="#20130a" opacity="0.75"/>
<ellipse cx="443.1" cy="490.9" rx="9.9" ry="9.7" transform="rotate(128 443.1 490.9)" fill="url(#kb3)"/>
<ellipse cx="351.1" cy="466.7" rx="9.4" ry="9.4" transform="rotate(40 351.1 466.7)" fill="#20130a" opacity="0.75"/>
<ellipse cx="349.9" cy="464.5" rx="8.6" ry="8.6" transform="rotate(40 349.9 464.5)" fill="url(#kb3)"/>
<ellipse cx="362.5" cy="472.2" rx="9.7" ry="7.7" transform="rotate(121 362.5 472.2)" fill="#20130a" opacity="0.75"/>
<ellipse cx="361.3" cy="471.8" rx="8.9" ry="6.9" transform="rotate(121 361.3 471.8)" fill="#865220"/>
<ellipse cx="361.3" cy="470.0" rx="8.9" ry="6.9" transform="rotate(121 361.3 470.0)" fill="url(#kb3)"/>
<ellipse cx="404.5" cy="468.2" rx="9.8" ry="9.6" transform="rotate(157 404.5 468.2)" fill="#20130a" opacity="0.75"/>
<ellipse cx="403.3" cy="466.0" rx="9.0" ry="8.8" transform="rotate(157 403.3 466.0)" fill="url(#kb)"/>
<ellipse cx="479.0" cy="525.0" rx="9.4" ry="7.4" transform="rotate(146 479.0 525.0)" fill="#20130a" opacity="0.75"/>
<ellipse cx="477.8" cy="524.6" rx="8.6" ry="6.6" transform="rotate(146 477.8 524.6)" fill="#865220"/>
<ellipse cx="477.8" cy="522.8" rx="8.6" ry="6.6" transform="rotate(146 477.8 522.8)" fill="url(#kb3)"/>
<ellipse cx="419.3" cy="475.8" rx="10.6" ry="7.7" transform="rotate(87 419.3 475.8)" fill="#20130a" opacity="0.75"/>
<ellipse cx="418.1" cy="475.4" rx="9.8" ry="6.9" transform="rotate(87 418.1 475.4)" fill="#865220"/>
<ellipse cx="418.1" cy="473.6" rx="9.8" ry="6.9" transform="rotate(87 418.1 473.6)" fill="url(#kb)"/>
<ellipse cx="427.6" cy="550.7" rx="9.7" ry="8.9" transform="rotate(47 427.6 550.7)" fill="#20130a" opacity="0.75"/>
<ellipse cx="426.4" cy="548.5" rx="8.9" ry="8.1" transform="rotate(47 426.4 548.5)" fill="url(#kb3)"/>
<ellipse cx="377.0" cy="509.9" rx="9.7" ry="8.1" transform="rotate(68 377.0 509.9)" fill="#20130a" opacity="0.75"/>
<ellipse cx="375.8" cy="509.5" rx="8.9" ry="7.3" transform="rotate(68 375.8 509.5)" fill="#865220"/>
<ellipse cx="375.8" cy="507.7" rx="8.9" ry="7.3" transform="rotate(68 375.8 507.7)" fill="url(#kb2)"/>
<ellipse cx="479.4" cy="459.0" rx="9.8" ry="7.1" transform="rotate(166 479.4 459.0)" fill="#20130a" opacity="0.75"/>
<ellipse cx="478.2" cy="458.6" rx="9.0" ry="6.3" transform="rotate(166 478.2 458.6)" fill="#865220"/>
<ellipse cx="478.2" cy="456.8" rx="9.0" ry="6.3" transform="rotate(166 478.2 456.8)" fill="url(#kb)"/>
<ellipse cx="348.3" cy="480.2" rx="9.6" ry="9.1" transform="rotate(128 348.3 480.2)" fill="#20130a" opacity="0.75"/>
<ellipse cx="347.1" cy="478.0" rx="8.8" ry="8.3" transform="rotate(128 347.1 478.0)" fill="url(#kb2)"/>
<ellipse cx="352.6" cy="452.3" rx="9.7" ry="9.4" transform="rotate(168 352.6 452.3)" fill="#20130a" opacity="0.75"/>
<ellipse cx="351.4" cy="450.1" rx="8.9" ry="8.6" transform="rotate(168 351.4 450.1)" fill="url(#kb2)"/>
<ellipse cx="475.2" cy="493.5" rx="9.8" ry="9.8" transform="rotate(95 475.2 493.5)" fill="#20130a" opacity="0.75"/>
<ellipse cx="474.0" cy="491.3" rx="9.0" ry="9.0" transform="rotate(95 474.0 491.3)" fill="url(#kb)"/>
<ellipse cx="444.8" cy="446.2" rx="9.9" ry="9.2" transform="rotate(28 444.8 446.2)" fill="#20130a" opacity="0.75"/>
<ellipse cx="443.6" cy="444.0" rx="9.1" ry="8.4" transform="rotate(28 443.6 444.0)" fill="url(#kb2)"/>
<ellipse cx="448.2" cy="562.1" rx="9.9" ry="9.3" transform="rotate(16 448.2 562.1)" fill="#20130a" opacity="0.75"/>
<ellipse cx="447.0" cy="559.9" rx="9.1" ry="8.5" transform="rotate(16 447.0 559.9)" fill="url(#kb3)"/>
<ellipse cx="330.7" cy="539.9" rx="10.5" ry="10.4" transform="rotate(150 330.7 539.9)" fill="#20130a" opacity="0.75"/>
<ellipse cx="329.5" cy="537.7" rx="9.7" ry="9.6" transform="rotate(150 329.5 537.7)" fill="url(#kb)"/>
<ellipse cx="454.7" cy="532.8" rx="10.4" ry="10.2" transform="rotate(32 454.7 532.8)" fill="#20130a" opacity="0.75"/>
<ellipse cx="453.5" cy="530.6" rx="9.6" ry="9.4" transform="rotate(32 453.5 530.6)" fill="url(#kb3)"/>
<ellipse cx="370.0" cy="426.9" rx="10.5" ry="9.7" transform="rotate(19 370.0 426.9)" fill="#20130a" opacity="0.75"/>
<ellipse cx="368.8" cy="424.7" rx="9.7" ry="8.9" transform="rotate(19 368.8 424.7)" fill="url(#kb)"/>
<ellipse cx="449.0" cy="462.0" rx="10.5" ry="8.4" transform="rotate(28 449.0 462.0)" fill="#20130a" opacity="0.75"/>
<ellipse cx="447.8" cy="461.6" rx="9.7" ry="7.6" transform="rotate(28 447.8 461.6)" fill="#865220"/>
<ellipse cx="447.8" cy="459.8" rx="9.7" ry="7.6" transform="rotate(28 447.8 459.8)" fill="url(#kb2)"/>
<ellipse cx="345.8" cy="493.7" rx="10.2" ry="9.6" transform="rotate(82 345.8 493.7)" fill="#20130a" opacity="0.75"/>
<ellipse cx="344.6" cy="491.5" rx="9.4" ry="8.8" transform="rotate(82 344.6 491.5)" fill="url(#kb3)"/>
<ellipse cx="469.6" cy="483.2" rx="9.7" ry="9.0" transform="rotate(107 469.6 483.2)" fill="#20130a" opacity="0.75"/>
<ellipse cx="468.4" cy="481.0" rx="8.9" ry="8.2" transform="rotate(107 468.4 481.0)" fill="url(#kb)"/>
<ellipse cx="465.3" cy="459.6" rx="10.0" ry="9.2" transform="rotate(143 465.3 459.6)" fill="#20130a" opacity="0.75"/>
<ellipse cx="464.1" cy="457.4" rx="9.2" ry="8.4" transform="rotate(143 464.1 457.4)" fill="url(#kb)"/>
<ellipse cx="483.0" cy="480.4" rx="10.6" ry="7.1" transform="rotate(72 483.0 480.4)" fill="#20130a" opacity="0.75"/>
<ellipse cx="481.8" cy="480.0" rx="9.8" ry="6.3" transform="rotate(72 481.8 480.0)" fill="#865220"/>
<ellipse cx="481.8" cy="478.2" rx="9.8" ry="6.3" transform="rotate(72 481.8 478.2)" fill="url(#kb)"/>
<ellipse cx="420.1" cy="410.1" rx="10.2" ry="7.8" transform="rotate(172 420.1 410.1)" fill="#20130a" opacity="0.75"/>
<ellipse cx="418.9" cy="409.7" rx="9.4" ry="7.0" transform="rotate(172 418.9 409.7)" fill="#865220"/>
<ellipse cx="418.9" cy="407.9" rx="9.4" ry="7.0" transform="rotate(172 418.9 407.9)" fill="url(#kb2)"/>
<ellipse cx="436.3" cy="505.9" rx="9.6" ry="8.2" transform="rotate(117 436.3 505.9)" fill="#20130a" opacity="0.75"/>
<ellipse cx="435.1" cy="505.5" rx="8.8" ry="7.4" transform="rotate(117 435.1 505.5)" fill="#865220"/>
<ellipse cx="435.1" cy="503.7" rx="8.8" ry="7.4" transform="rotate(117 435.1 503.7)" fill="url(#kb2)"/>
<ellipse cx="383.7" cy="457.1" rx="10.3" ry="7.1" transform="rotate(140 383.7 457.1)" fill="#20130a" opacity="0.75"/>
<ellipse cx="382.5" cy="456.7" rx="9.5" ry="6.3" transform="rotate(140 382.5 456.7)" fill="#865220"/>
<ellipse cx="382.5" cy="454.9" rx="9.5" ry="6.3" transform="rotate(140 382.5 454.9)" fill="url(#kb3)"/>
<ellipse cx="406.7" cy="499.2" rx="10.1" ry="6.1" transform="rotate(166 406.7 499.2)" fill="#20130a" opacity="0.75"/>
<ellipse cx="405.5" cy="498.8" rx="9.3" ry="5.3" transform="rotate(166 405.5 498.8)" fill="#865220"/>
<ellipse cx="405.5" cy="497.0" rx="9.3" ry="5.3" transform="rotate(166 405.5 497.0)" fill="url(#kb)"/>
<ellipse cx="384.5" cy="521.3" rx="9.6" ry="8.8" transform="rotate(137 384.5 521.3)" fill="#20130a" opacity="0.75"/>
<ellipse cx="383.3" cy="519.1" rx="8.8" ry="8.0" transform="rotate(137 383.3 519.1)" fill="url(#kb3)"/>
<ellipse cx="399.1" cy="537.8" rx="9.7" ry="7.9" transform="rotate(14 399.1 537.8)" fill="#20130a" opacity="0.75"/>
<ellipse cx="397.9" cy="537.4" rx="8.9" ry="7.1" transform="rotate(14 397.9 537.4)" fill="#865220"/>
<ellipse cx="397.9" cy="535.6" rx="8.9" ry="7.1" transform="rotate(14 397.9 535.6)" fill="url(#kb)"/>
<ellipse cx="385.9" cy="473.1" rx="10.1" ry="8.2" transform="rotate(85 385.9 473.1)" fill="#20130a" opacity="0.75"/>
<ellipse cx="384.7" cy="472.7" rx="9.3" ry="7.4" transform="rotate(85 384.7 472.7)" fill="#865220"/>
<ellipse cx="384.7" cy="470.9" rx="9.3" ry="7.4" transform="rotate(85 384.7 470.9)" fill="url(#kb2)"/>
<ellipse cx="428.9" cy="520.0" rx="9.7" ry="6.8" transform="rotate(32 428.9 520.0)" fill="#20130a" opacity="0.75"/>
<ellipse cx="427.7" cy="519.6" rx="8.9" ry="6.0" transform="rotate(32 427.7 519.6)" fill="#865220"/>
<ellipse cx="427.7" cy="517.8" rx="8.9" ry="6.0" transform="rotate(32 427.7 517.8)" fill="url(#kb3)"/>
<ellipse cx="341.4" cy="523.0" rx="10.4" ry="7.6" transform="rotate(121 341.4 523.0)" fill="#20130a" opacity="0.75"/>
<ellipse cx="340.2" cy="522.6" rx="9.6" ry="6.8" transform="rotate(121 340.2 522.6)" fill="#865220"/>
<ellipse cx="340.2" cy="520.8" rx="9.6" ry="6.8" transform="rotate(121 340.2 520.8)" fill="url(#kb3)"/>
<ellipse cx="419.6" cy="423.2" rx="10.2" ry="6.1" transform="rotate(30 419.6 423.2)" fill="#20130a" opacity="0.75"/>
<ellipse cx="418.4" cy="422.8" rx="9.4" ry="5.3" transform="rotate(30 418.4 422.8)" fill="#865220"/>
<ellipse cx="418.4" cy="421.0" rx="9.4" ry="5.3" transform="rotate(30 418.4 421.0)" fill="url(#kb3)"/>
<ellipse cx="316.2" cy="490.6" rx="10.6" ry="6.3" transform="rotate(84 316.2 490.6)" fill="#20130a" opacity="0.75"/>
<ellipse cx="315.0" cy="490.2" rx="9.8" ry="5.5" transform="rotate(84 315.0 490.2)" fill="#865220"/>
<ellipse cx="315.0" cy="488.4" rx="9.8" ry="5.5" transform="rotate(84 315.0 488.4)" fill="url(#kb)"/>
<ellipse cx="432.2" cy="483.0" rx="9.5" ry="8.9" transform="rotate(76 432.2 483.0)" fill="#20130a" opacity="0.75"/>
<ellipse cx="431.0" cy="480.8" rx="8.7" ry="8.1" transform="rotate(76 431.0 480.8)" fill="url(#kb)"/>
<ellipse cx="338.8" cy="456.0" rx="9.7" ry="6.6" transform="rotate(149 338.8 456.0)" fill="#20130a" opacity="0.75"/>
<ellipse cx="337.6" cy="455.6" rx="8.9" ry="5.8" transform="rotate(149 337.6 455.6)" fill="#865220"/>
<ellipse cx="337.6" cy="453.8" rx="8.9" ry="5.8" transform="rotate(149 337.6 453.8)" fill="url(#kb)"/>
<ellipse cx="340.6" cy="432.1" rx="10.6" ry="9.8" transform="rotate(153 340.6 432.1)" fill="#20130a" opacity="0.75"/>
<ellipse cx="339.4" cy="429.9" rx="9.8" ry="9.0" transform="rotate(153 339.4 429.9)" fill="url(#kb2)"/>
<ellipse cx="403.3" cy="511.7" rx="10.4" ry="7.9" transform="rotate(14 403.3 511.7)" fill="#20130a" opacity="0.75"/>
<ellipse cx="402.1" cy="511.3" rx="9.6" ry="7.1" transform="rotate(14 402.1 511.3)" fill="#865220"/>
<ellipse cx="402.1" cy="509.5" rx="9.6" ry="7.1" transform="rotate(14 402.1 509.5)" fill="url(#kb)"/>
<ellipse cx="329.6" cy="503.0" rx="9.8" ry="9.0" transform="rotate(111 329.6 503.0)" fill="#20130a" opacity="0.75"/>
<ellipse cx="328.4" cy="500.8" rx="9.0" ry="8.2" transform="rotate(111 328.4 500.8)" fill="url(#kb3)"/>
<ellipse cx="418.0" cy="514.7" rx="10.0" ry="9.3" transform="rotate(165 418.0 514.7)" fill="#20130a" opacity="0.75"/>
<ellipse cx="416.8" cy="512.5" rx="9.2" ry="8.5" transform="rotate(165 416.8 512.5)" fill="url(#kb)"/>
<ellipse cx="347.9" cy="553.9" rx="10.3" ry="8.4" transform="rotate(125 347.9 553.9)" fill="#20130a" opacity="0.75"/>
<ellipse cx="346.7" cy="553.5" rx="9.5" ry="7.6" transform="rotate(125 346.7 553.5)" fill="#865220"/>
<ellipse cx="346.7" cy="551.7" rx="9.5" ry="7.6" transform="rotate(125 346.7 551.7)" fill="url(#kb2)"/>
<ellipse cx="354.0" cy="505.2" rx="9.8" ry="7.2" transform="rotate(120 354.0 505.2)" fill="#20130a" opacity="0.75"/>
<ellipse cx="352.8" cy="504.8" rx="9.0" ry="6.4" transform="rotate(120 352.8 504.8)" fill="#865220"/>
<ellipse cx="352.8" cy="503.0" rx="9.0" ry="6.4" transform="rotate(120 352.8 503.0)" fill="url(#kb)"/>
<ellipse cx="455.6" cy="476.3" rx="10.2" ry="8.0" transform="rotate(42 455.6 476.3)" fill="#20130a" opacity="0.75"/>
<ellipse cx="454.4" cy="475.9" rx="9.4" ry="7.2" transform="rotate(42 454.4 475.9)" fill="#865220"/>
<ellipse cx="454.4" cy="474.1" rx="9.4" ry="7.2" transform="rotate(42 454.4 474.1)" fill="url(#kb)"/>
<ellipse cx="319.2" cy="479.1" rx="10.2" ry="7.7" transform="rotate(70 319.2 479.1)" fill="#20130a" opacity="0.75"/>
<ellipse cx="318.0" cy="478.7" rx="9.4" ry="6.9" transform="rotate(70 318.0 478.7)" fill="#865220"/>
<ellipse cx="318.0" cy="476.9" rx="9.4" ry="6.9" transform="rotate(70 318.0 476.9)" fill="url(#kb3)"/>
<ellipse cx="375.5" cy="441.2" rx="9.7" ry="6.1" transform="rotate(131 375.5 441.2)" fill="#20130a" opacity="0.75"/>
<ellipse cx="374.3" cy="440.8" rx="8.9" ry="5.3" transform="rotate(131 374.3 440.8)" fill="#865220"/>
<ellipse cx="374.3" cy="439.0" rx="8.9" ry="5.3" transform="rotate(131 374.3 439.0)" fill="url(#kb)"/>
<ellipse cx="408.8" cy="452.5" rx="10.0" ry="7.2" transform="rotate(29 408.8 452.5)" fill="#20130a" opacity="0.75"/>
<ellipse cx="407.6" cy="452.1" rx="9.2" ry="6.4" transform="rotate(29 407.6 452.1)" fill="#865220"/>
<ellipse cx="407.6" cy="450.3" rx="9.2" ry="6.4" transform="rotate(29 407.6 450.3)" fill="url(#kb3)"/>
<ellipse cx="441.8" cy="522.3" rx="10.5" ry="9.9" transform="rotate(60 441.8 522.3)" fill="#20130a" opacity="0.75"/>
<ellipse cx="440.6" cy="520.1" rx="9.7" ry="9.1" transform="rotate(60 440.6 520.1)" fill="url(#kb2)"/>
</g>
<path d="M470,188.6 H498.7 V152.2 H544.5" fill="none" stroke="#b3c3cc" stroke-width="1.2"/>
<circle cx="431" cy="198.1" r="39.1" fill="#9bafbb"/>
<path d="M411,176.5 C418,171.5 430,173 441,172.5 C449,172 454,176 455.5,184 C457,192 458.5,199 457.5,206 C456.5,214 452,221 444,224 C437,227 430,228 423,226.5 C415,225 410,219 407.5,212 C405,205 404,199 405.5,192 C406.5,186 407,180 411,176.5 Z" fill="url(#gran)"/>
<path d="M411,176.5 C418,171.5 430,173 441,172.5 C449,172 454,176 455.5,184 C457,192 458.5,199 457.5,206 C456.5,214 452,221 444,224 C437,227 430,228 423,226.5 C415,225 410,219 407.5,212 C405,205 404,199 405.5,192 C406.5,186 407,180 411,176.5 Z" fill="#000" filter="url(#grain)" opacity="0.5"/>
<rect x="470.1" y="7.4" width="24.4" height="20.0" rx="8.4" ry="8.4" transform="rotate(-5 482.3 17.4)" fill="url(#pc)"/>
<rect x="470.1" y="7.4" width="24.4" height="20.0" rx="8.4" ry="8.4" transform="rotate(-5 482.3 17.4)" fill="#000" filter="url(#grain)" opacity="0.35"/>
<rect x="514.7" y="-9.5" width="24.4" height="25.0" rx="10.2" ry="10.2" transform="rotate(5 526.9 3.0)" fill="url(#pc)"/>
<rect x="514.7" y="-9.5" width="24.4" height="25.0" rx="10.2" ry="10.2" transform="rotate(5 526.9 3.0)" fill="#000" filter="url(#grain)" opacity="0.35"/>
<rect x="491.4" y="29.4" width="19.5" height="23.5" rx="7.0" ry="7.0" transform="rotate(18 501.1 41.1)" fill="url(#pc)"/>
<rect x="491.4" y="29.4" width="19.5" height="23.5" rx="7.0" ry="7.0" transform="rotate(18 501.1 41.1)" fill="#000" filter="url(#grain)" opacity="0.35"/>
<rect x="523.7" y="28.4" width="23.6" height="21.4" rx="9.8" ry="9.8" transform="rotate(0 535.5 39.1)" fill="url(#pc)"/>
<rect x="523.7" y="28.4" width="23.6" height="21.4" rx="9.8" ry="9.8" transform="rotate(0 535.5 39.1)" fill="#000" filter="url(#grain)" opacity="0.35"/>
<circle cx="543.4" cy="51" r="1.8" fill="#c08850"/>
<rect x="461.4" y="52.3" width="25.0" height="23.0" rx="10.6" ry="10.6" transform="rotate(-10 473.9 63.8)" fill="url(#pc)"/>
<rect x="461.4" y="52.3" width="25.0" height="23.0" rx="10.6" ry="10.6" transform="rotate(-10 473.9 63.8)" fill="#000" filter="url(#grain)" opacity="0.35"/>
<rect x="500.0" y="51.3" width="20.7" height="23.0" rx="9.1" ry="9.1" transform="rotate(-8 510.4 62.8)" fill="url(#pc)"/>
<rect x="500.0" y="51.3" width="20.7" height="23.0" rx="9.1" ry="9.1" transform="rotate(-8 510.4 62.8)" fill="#000" filter="url(#grain)" opacity="0.35"/>
<rect x="455.8" y="90.0" width="23.6" height="21.4" rx="9.8" ry="9.8" transform="rotate(8 467.6 100.7)" fill="url(#pc)"/>
<rect x="455.8" y="90.0" width="23.6" height="21.4" rx="9.8" ry="9.8" transform="rotate(8 467.6 100.7)" fill="#000" filter="url(#grain)" opacity="0.35"/>
<defs>
<clipPath id="stc"><path d="M341.8,-5.9 C358.5,-8.9 412.2,-10.6 429.0,-5.9 C445.7,-1.2 439.8,15.3 442.3,22.2 C444.7,29.1 445.5,29.8 443.7,35.5 C442.0,41.1 436.8,49.3 431.9,56.2 C427.0,63.1 420.1,71.4 414.2,76.9 C408.3,82.3 403.3,84.2 396.4,88.7 C389.5,93.1 380.2,98.5 372.8,103.5 C365.4,108.4 358.0,114.3 352.1,118.2 C346.2,122.2 343.7,124.9 337.3,127.1 C330.9,129.3 319.8,129.1 313.7,131.5 C307.5,134.0 303.8,138.2 300.4,141.9 C296.9,145.6 297.2,150.8 293.0,153.7 C288.8,156.7 281.7,160.6 275.3,159.6 C268.8,158.6 259.7,152.7 254.6,147.8 C249.4,142.9 246.2,136.5 244.2,130.1 C242.2,123.7 242.0,116.8 242.7,109.4 C243.5,102.0 246.2,92.1 248.6,85.7 C251.1,79.3 254.1,75.9 257.5,70.9 C261.0,66.0 264.9,60.6 269.3,56.2 C273.8,51.7 278.2,47.3 284.1,44.3 C290.0,41.4 298.9,41.4 304.8,38.4 C310.7,35.5 315.6,31.0 319.6,26.6 C323.5,22.2 324.8,17.2 328.5,11.8 C332.2,6.4 325.0,-3.0 341.8,-5.9 Z"/></clipPath>
<linearGradient id="stg" gradientUnits="userSpaceOnUse" x1="245" y1="150" x2="440" y2="10"><stop offset="0" stop-color="#b0703a"/><stop offset="0.18" stop-color="#a06c42"/><stop offset="0.5" stop-color="#a67548"/><stop offset="0.8" stop-color="#9c6a48"/><stop offset="1" stop-color="#8a5840"/></linearGradient>
<filter id="blur1" x="-20%" y="-20%" width="140%" height="140%"><feGaussianBlur stdDeviation="1.2"/></filter>
<filter id="blur2" x="-20%" y="-20%" width="140%" height="140%"><feGaussianBlur stdDeviation="2.5"/></filter>
<filter id="tex" x="0" y="0" width="100%" height="100%"><feTurbulence type="fractalNoise" baseFrequency="0.35" numOctaves="2" seed="4" result="n"/><feColorMatrix in="n" type="matrix" values="0 0 0 0 0.15  0 0 0 0 0.08  0 0 0 0 0.04  0 0 0 1.6 -0.75"/></filter>
</defs>
<path d="M341.8,-5.9 C358.5,-8.9 412.2,-10.6 429.0,-5.9 C445.7,-1.2 439.8,15.3 442.3,22.2 C444.7,29.1 445.5,29.8 443.7,35.5 C442.0,41.1 436.8,49.3 431.9,56.2 C427.0,63.1 420.1,71.4 414.2,76.9 C408.3,82.3 403.3,84.2 396.4,88.7 C389.5,93.1 380.2,98.5 372.8,103.5 C365.4,108.4 358.0,114.3 352.1,118.2 C346.2,122.2 343.7,124.9 337.3,127.1 C330.9,129.3 319.8,129.1 313.7,131.5 C307.5,134.0 303.8,138.2 300.4,141.9 C296.9,145.6 297.2,150.8 293.0,153.7 C288.8,156.7 281.7,160.6 275.3,159.6 C268.8,158.6 259.7,152.7 254.6,147.8 C249.4,142.9 246.2,136.5 244.2,130.1 C242.2,123.7 242.0,116.8 242.7,109.4 C243.5,102.0 246.2,92.1 248.6,85.7 C251.1,79.3 254.1,75.9 257.5,70.9 C261.0,66.0 264.9,60.6 269.3,56.2 C273.8,51.7 278.2,47.3 284.1,44.3 C290.0,41.4 298.9,41.4 304.8,38.4 C310.7,35.5 315.6,31.0 319.6,26.6 C323.5,22.2 324.8,17.2 328.5,11.8 C332.2,6.4 325.0,-3.0 341.8,-5.9 Z" fill="url(#stg)"/>
<g clip-path="url(#stc)">
<path d="M322.5,17.7 C328.0,12.1 337.8,4.9 343.2,1.5 C348.7,-2.0 355.1,-5.7 355.1,-3.0 C355.1,-0.2 348.7,11.3 343.2,17.7 C337.8,24.1 329.4,30.5 322.5,35.5 C315.6,40.4 308.8,44.6 301.9,47.3 C295.0,50.0 282.6,52.7 281.2,51.7 C279.7,50.7 288.1,44.1 293.0,41.4 C297.9,38.7 305.8,39.4 310.7,35.5 C315.6,31.5 317.1,23.4 322.5,17.7 Z" fill="#e6a044" filter="url(#blur1)"/>
<path d="M242.7,97.5 C244.7,91.1 253.8,92.1 257.5,94.6 C261.2,97.1 263.9,105.9 264.9,112.3 C265.9,118.7 262.7,127.1 263.4,133.0 C264.2,138.9 270.3,145.3 269.3,147.8 C268.4,150.3 261.5,150.3 257.5,147.8 C253.6,145.3 248.2,141.4 245.7,133.0 C243.2,124.6 240.8,104.0 242.7,97.5 Z" fill="#cf8b4a" filter="url(#blur1)"/>
<path d="M257.5,138.9 C261.9,136.0 274.8,135.5 284.1,133.0 C293.5,130.6 303.8,126.6 313.7,124.2 C323.5,121.7 334.9,121.7 343.2,118.2 C351.6,114.8 358.0,106.9 363.9,103.5 C369.8,100.0 380.2,95.1 378.7,97.5 C377.2,100.0 362.0,113.1 355.1,118.2 C348.2,123.4 344.2,126.1 337.3,128.6 C330.4,131.0 320.1,130.3 313.7,133.0 C307.3,135.7 302.6,141.1 298.9,144.8 C295.2,148.5 295.5,152.5 291.5,155.2 C287.6,157.9 280.9,161.8 275.3,161.1 C269.6,160.4 260.5,154.4 257.5,150.8 C254.6,147.1 253.1,141.9 257.5,138.9 Z" fill="#b98373" filter="url(#blur1)" opacity="0.9"/>
<path d="M429.0,0.0 C432.2,3.2 439.7,16.3 442.3,22.2 C444.8,28.1 446.1,29.8 444.3,35.5 C442.6,41.1 436.0,50.3 431.9,56.2 C427.9,62.1 420.6,72.4 420.1,70.9 C419.6,69.5 426.7,54.7 429.0,47.3 C431.2,39.9 434.4,34.0 433.4,26.6 C432.4,19.2 423.8,7.4 423.0,3.0 C422.3,-1.5 425.8,-3.2 429.0,0.0 Z" fill="#b88a72" filter="url(#blur1)" opacity="0.9"/>
<path d="M352.1,22.2 L429.0,44.3" stroke="#c9a078" stroke-width="4.5" stroke-linecap="round" opacity="0.7" filter="url(#blur1)"/>
<path d="M322.5,44.3 L411.2,69.5" stroke="#c9a078" stroke-width="4.5" stroke-linecap="round" opacity="0.7" filter="url(#blur1)"/>
<path d="M281.2,63.6 L390.5,88.7" stroke="#c9a078" stroke-width="4.5" stroke-linecap="round" opacity="0.7" filter="url(#blur1)"/>
<path d="M260.5,88.7 L366.9,109.4" stroke="#c9a078" stroke-width="4.5" stroke-linecap="round" opacity="0.7" filter="url(#blur1)"/>
<path d="M257.5,109.4 L337.3,124.2" stroke="#c9a078" stroke-width="4.5" stroke-linecap="round" opacity="0.7" filter="url(#blur1)"/>
<path d="M358.0,7.4 L431.9,28.1" stroke="#4a2616" stroke-width="12.6" stroke-linecap="round" opacity="0.55" filter="url(#blur2)"/>
<path d="M358.0,7.4 L431.9,28.1" stroke="#21110d" stroke-width="6.0" stroke-linecap="round" opacity="0.92" filter="url(#blur1)"/>
<path d="M325.5,29.6 L418.6,59.1" stroke="#4a2616" stroke-width="12.6" stroke-linecap="round" opacity="0.55" filter="url(#blur2)"/>
<path d="M325.5,29.6 L418.6,59.1" stroke="#21110d" stroke-width="6.0" stroke-linecap="round" opacity="0.92" filter="url(#blur1)"/>
<path d="M307.8,48.8 L405.3,81.3" stroke="#4a2616" stroke-width="12.6" stroke-linecap="round" opacity="0.55" filter="url(#blur2)"/>
<path d="M307.8,48.8 L405.3,81.3" stroke="#21110d" stroke-width="6.0" stroke-linecap="round" opacity="0.92" filter="url(#blur1)"/>
<path d="M272.3,60.6 L390.5,93.1" stroke="#4a2616" stroke-width="12.6" stroke-linecap="round" opacity="0.55" filter="url(#blur2)"/>
<path d="M272.3,60.6 L390.5,93.1" stroke="#21110d" stroke-width="6.0" stroke-linecap="round" opacity="0.92" filter="url(#blur1)"/>
<path d="M253.1,79.2 L363.9,107.9" stroke="#4a2616" stroke-width="12.6" stroke-linecap="round" opacity="0.55" filter="url(#blur2)"/>
<path d="M253.1,79.2 L363.9,107.9" stroke="#21110d" stroke-width="6.0" stroke-linecap="round" opacity="0.92" filter="url(#blur1)"/>
<path d="M250.1,102.0 L343.2,121.2" stroke="#4a2616" stroke-width="12.6" stroke-linecap="round" opacity="0.55" filter="url(#blur2)"/>
<path d="M250.1,102.0 L343.2,121.2" stroke="#21110d" stroke-width="6.0" stroke-linecap="round" opacity="0.92" filter="url(#blur1)"/>
<path d="M260.5,125.6 L313.7,130.1" stroke="#4a2616" stroke-width="8.0" stroke-linecap="round" opacity="0.55" filter="url(#blur2)"/>
<path d="M260.5,125.6 L313.7,130.1" stroke="#21110d" stroke-width="3.8" stroke-linecap="round" opacity="0.92" filter="url(#blur1)"/>
<path d="M273.8,63.6 L276.7,88.7" stroke="#1e100c" stroke-width="4.2" stroke-linecap="round" opacity="0.85" filter="url(#blur1)"/>
<path d="M312.2,81.3 L310.7,102.0" stroke="#1e100c" stroke-width="4.2" stroke-linecap="round" opacity="0.85" filter="url(#blur1)"/>
<path d="M279.7,100.5 L281.2,121.2" stroke="#1e100c" stroke-width="4.2" stroke-linecap="round" opacity="0.85" filter="url(#blur1)"/>
<path d="M310.7,107.9 L312.2,127.1" stroke="#1e100c" stroke-width="4.2" stroke-linecap="round" opacity="0.85" filter="url(#blur1)"/>
<path d="M402.4,63.6 L408.3,73.9" stroke="#1e100c" stroke-width="4.2" stroke-linecap="round" opacity="0.85" filter="url(#blur1)"/>
<path d="M363.9,79.8 L369.8,97.5" stroke="#1e100c" stroke-width="4.2" stroke-linecap="round" opacity="0.85" filter="url(#blur1)"/>
<path d="M256.0,106.4 L254.6,118.2" stroke="#1e100c" stroke-width="4.2" stroke-linecap="round" opacity="0.85" filter="url(#blur1)"/>
<path d="M378.7,11.8 L384.6,26.6" stroke="#1e100c" stroke-width="4.2" stroke-linecap="round" opacity="0.85" filter="url(#blur1)"/>
<path d="M337.3,97.5 L340.3,115.3" stroke="#1e100c" stroke-width="4.2" stroke-linecap="round" opacity="0.85" filter="url(#blur1)"/>
<ellipse cx="298.9" cy="73.9" rx="9.0" ry="3.5" transform="rotate(18 298.9 73.9)" fill="#e6c3a2" opacity="0.45" filter="url(#blur1)"/>
<ellipse cx="349.2" cy="47.3" rx="8.1" ry="3.1" transform="rotate(18 349.2 47.3)" fill="#e6c3a2" opacity="0.45" filter="url(#blur1)"/>
<ellipse cx="390.5" cy="32.5" rx="8.1" ry="3.1" transform="rotate(18 390.5 32.5)" fill="#e6c3a2" opacity="0.45" filter="url(#blur1)"/>
<ellipse cx="322.5" cy="97.5" rx="7.2" ry="2.8" transform="rotate(18 322.5 97.5)" fill="#e6c3a2" opacity="0.45" filter="url(#blur1)"/>
<ellipse cx="378.7" cy="62.1" rx="7.2" ry="2.8" transform="rotate(18 378.7 62.1)" fill="#e6c3a2" opacity="0.45" filter="url(#blur1)"/>
<ellipse cx="284.1" cy="115.3" rx="7.2" ry="2.8" transform="rotate(18 284.1 115.3)" fill="#e6c3a2" opacity="0.45" filter="url(#blur1)"/>
<ellipse cx="405.3" cy="17.7" rx="6.3" ry="2.4" transform="rotate(18 405.3 17.7)" fill="#e6c3a2" opacity="0.45" filter="url(#blur1)"/>
<path d="M341.8,-5.9 C358.5,-8.9 412.2,-10.6 429.0,-5.9 C445.7,-1.2 439.8,15.3 442.3,22.2 C444.7,29.1 445.5,29.8 443.7,35.5 C442.0,41.1 436.8,49.3 431.9,56.2 C427.0,63.1 420.1,71.4 414.2,76.9 C408.3,82.3 403.3,84.2 396.4,88.7 C389.5,93.1 380.2,98.5 372.8,103.5 C365.4,108.4 358.0,114.3 352.1,118.2 C346.2,122.2 343.7,124.9 337.3,127.1 C330.9,129.3 319.8,129.1 313.7,131.5 C307.5,134.0 303.8,138.2 300.4,141.9 C296.9,145.6 297.2,150.8 293.0,153.7 C288.8,156.7 281.7,160.6 275.3,159.6 C268.8,158.6 259.7,152.7 254.6,147.8 C249.4,142.9 246.2,136.5 244.2,130.1 C242.2,123.7 242.0,116.8 242.7,109.4 C243.5,102.0 246.2,92.1 248.6,85.7 C251.1,79.3 254.1,75.9 257.5,70.9 C261.0,66.0 264.9,60.6 269.3,56.2 C273.8,51.7 278.2,47.3 284.1,44.3 C290.0,41.4 298.9,41.4 304.8,38.4 C310.7,35.5 315.6,31.0 319.6,26.6 C323.5,22.2 324.8,17.2 328.5,11.8 C332.2,6.4 325.0,-3.0 341.8,-5.9 Z" fill="none" stroke="#6a3a22" stroke-width="5" opacity="0.55" filter="url(#blur2)"/>
<rect x="235" y="0" width="215" height="165" filter="url(#tex)" opacity="0.6"/>
</g>
<circle cx="400.0" cy="13.3" r="4" fill="#c4222d"/>
<circle cx="352.1" cy="29.6" r="4" fill="#b8202a"/>
<circle cx="365.4" cy="73.0" r="3" fill="#c0242c"/>
<circle cx="405.9" cy="6.5" r="3" fill="#e6d6a0"/>
<circle cx="361.0" cy="70.9" r="2.4" fill="#dccb92"/>
<circle cx="366.9" cy="37.8" r="3" fill="#1c1412"/>
<circle cx="406.8" cy="47.3" r="3" fill="#1c1412"/>
<circle cx="407.4" cy="13.3" r="2.2" fill="#20161a"/>
<circle cx="372.8" cy="63.6" r="3.4" fill="#1c1412"/>
<circle cx="346.2" cy="53.2" r="3" fill="#241812"/>
<circle cx="309.2" cy="63.6" r="3" fill="#1e1410"/>
<circle cx="233.9" cy="94.0" r="5.4" fill="#4c3828"/>
<circle cx="311.6" cy="3.5" r="4.9" fill="#56463a"/>
<circle cx="293.6" cy="11.8" r="3.8" fill="#594234"/>
<circle cx="273.2" cy="12.4" r="2.5" fill="#55443a"/>
<circle cx="326.1" cy="7.1" r="2.4" fill="#4a3a32"/>
<circle cx="281.2" cy="5.3" r="1.0" fill="#403028"/>
<circle cx="292.4" cy="22.2" r="1.0" fill="#403028"/>
<circle cx="295.1" cy="29.6" r="0.9" fill="#504038"/>
<circle cx="320.2" cy="9.8" r="1.0" fill="#403028"/>
<circle cx="265.5" cy="9.8" r="1.1" fill="#c03a3a"/>
<ellipse cx="382.6" cy="139.5" rx="1.1" ry="2.6" transform="rotate(15 382.6 139.5)" fill="#2a241e"/>
<ellipse cx="383.3" cy="40.6" rx="1.1" ry="2.6" transform="rotate(20 383.3 40.6)" fill="#2a241e" opacity="0"/>
<path d="M250.7,63.1 Q245.7,36.2 242.8,8.9 Q242.9,36.6 250.7,63.1 Z" fill="#3d7f24" stroke="#3d7f24" stroke-width="1.54" stroke-linejoin="round"/>
<path d="M250.7,63.1 Q264.1,40.4 270.4,14.8 Q261.7,39.4 250.7,63.1 Z" fill="#5c9f32" stroke="#5c9f32" stroke-width="1.43" stroke-linejoin="round"/>
<path d="M252.0,50.0 Q264.4,41.2 274.3,29.6 Q262.5,39.1 252.0,50.0 Z" fill="#5c9f32" stroke="#5c9f32" stroke-width="1.54" stroke-linejoin="round"/>
<path d="M252.5,44.0 Q255.7,33.1 256.6,21.7 Q253.4,32.6 252.5,44.0 Z" fill="#3d7f24" stroke="#3d7f24" stroke-width="1.26" stroke-linejoin="round"/>
<path d="M249.5,42.0 Q248.8,33.1 245.8,24.6 Q246.5,33.5 249.5,42.0 Z" fill="#5c9f32" stroke="#5c9f32" stroke-width="1.26" stroke-linejoin="round"/>
<path d="M251.0,62.0 Q252.9,51.1 251.8,40.0 Q249.9,50.9 251.0,62.0 Z" fill="#3d7f24" stroke="#3d7f24" stroke-width="1.65" stroke-linejoin="round"/>
<path d="M347.8,148.9 C358,140 376,127 394.2,114.4 L404,107" stroke="#4c8a2c" stroke-width="2.2" fill="none" stroke-linecap="round"/>
<path d="M351.0,146.5 Q361.4,133.0 371.8,119.5 Q359.0,131.2 351.0,146.5 Z" fill="#5c9f32" stroke="#5c9f32" stroke-width="1.65" stroke-linejoin="round"/>
<path d="M355.0,143.0 Q369.3,131.6 383.0,119.5 Q367.4,129.3 355.0,143.0 Z" fill="#3d7f24" stroke="#3d7f24" stroke-width="1.65" stroke-linejoin="round"/>
<path d="M357.0,141.5 Q367.5,138.4 375.5,131.0 Q366.0,135.8 357.0,141.5 Z" fill="#5c9f32" stroke="#5c9f32" stroke-width="1.65" stroke-linejoin="round"/>
<path d="M352.0,146.5 Q364.3,146.1 375.0,140.0 Q363.5,143.2 352.0,146.5 Z" fill="#3d7f24" stroke="#3d7f24" stroke-width="1.65" stroke-linejoin="round"/>
<path d="M349.0,148.0 Q355.4,139.3 361.0,130.0 Q352.9,137.6 349.0,148.0 Z" fill="#79b545" stroke="#79b545" stroke-width="1.65" stroke-linejoin="round"/>
<path d="M391.0,115.0 Q394.7,107.7 397.5,100.0 Q392.0,106.5 391.0,115.0 Z" fill="#3d7f24" stroke="#3d7f24" stroke-width="1.65" stroke-linejoin="round"/>
<path d="M393.0,114.0 Q407.2,96.2 421.5,78.4 Q404.9,94.3 393.0,114.0 Z" fill="#5c9f32" stroke="#5c9f32" stroke-width="1.65" stroke-linejoin="round"/>
<path d="M397.0,111.0 Q415.9,96.7 433.5,80.8 Q414.0,94.4 397.0,111.0 Z" fill="#3d7f24" stroke="#3d7f24" stroke-width="1.65" stroke-linejoin="round"/>
<path d="M399.0,110.0 Q424.9,95.5 448.7,77.6 Q423.3,93.0 399.0,110.0 Z" fill="#5c9f32" stroke="#5c9f32" stroke-width="1.65" stroke-linejoin="round"/>
<path d="M401.0,109.0 Q420.9,102.3 439.1,92.0 Q419.6,99.6 401.0,109.0 Z" fill="#79b545" stroke="#79b545" stroke-width="1.65" stroke-linejoin="round"/>
<path d="M397.0,112.5 Q424.3,109.2 450.3,100.0 Q423.6,106.2 397.0,112.5 Z" fill="#5c9f32" stroke="#5c9f32" stroke-width="1.65" stroke-linejoin="round"/>
<path d="M395.0,113.5 Q411.8,105.0 427.0,94.0 Q410.2,102.5 395.0,113.5 Z" fill="#3d7f24" stroke="#3d7f24" stroke-width="1.65" stroke-linejoin="round"/>
<path d="M321.6,92.6 Q347.8,77.5 371.9,59.1 Q346.2,75.1 321.6,92.6 Z" fill="#4f9a2c" stroke="#4f9a2c" stroke-width="1.59" stroke-linejoin="round"/>
<path d="M321.6,92.6 Q340.5,74.1 358.1,54.2 Q338.4,72.1 321.6,92.6 Z" fill="#2f6f1e" stroke="#2f6f1e" stroke-width="1.59" stroke-linejoin="round"/>
<path d="M321.6,92.6 Q335.3,75.1 348.2,57.1 Q332.9,73.4 321.6,92.6 Z" fill="#4f9a2c" stroke="#4f9a2c" stroke-width="1.59" stroke-linejoin="round"/>
<path d="M321.6,92.6 Q327.0,78.0 331.5,63.1 Q324.2,77.1 321.6,92.6 Z" fill="#3a8022" stroke="#3a8022" stroke-width="1.59" stroke-linejoin="round"/>
<path d="M321.6,92.6 Q340.9,90.5 359.1,83.7 Q340.2,87.7 321.6,92.6 Z" fill="#4f9a2c" stroke="#4f9a2c" stroke-width="1.59" stroke-linejoin="round"/>
<path d="M321.6,92.6 Q331.9,88.9 340.3,81.8 Q330.5,86.4 321.6,92.6 Z" fill="#2f6f1e" stroke="#2f6f1e" stroke-width="1.59" stroke-linejoin="round"/>
<path d="M325.4,174.3 C312.4,174.8 307.4,163.8 310.4,152.8 C313.4,143.8 329.4,143.8 338.4,138.8 C340.4,136.8 342.4,134.8 343.4,133.8 C343.4,138.8 342.4,143.8 342.9,151.8 C344.4,163.8 337.4,173.8 325.4,174.3 Z" fill="url(#onion)"/>
<path d="M317.4,165.8 C315.4,157.8 322.4,147.8 336.4,141.8" stroke="#d9a3c6" stroke-width="1.2" fill="none" opacity="0.7"/>
<path d="M324.4,169.8 C323.4,159.8 329.4,149.8 338.4,142.8" stroke="#c88bb5" stroke-width="1" fill="none" opacity="0.6"/>
</svg>
<div class="lbl" style="left:53.9px;top:113.1px;width:82.9px;height:34.8px"></div>
<div class="lbl" style="left:553.9px;top:136.3px;width:188.2px;height:34.1px"></div>
<div class="dot" style="left:40.5px;top:222.4px;background:#e85a24"></div>
<div class="dot" style="left:33.1px;top:395.2px;background:#c95f62"></div>
<div class="dot" style="left:31.3px;top:565.2px;background:#a181c8"></div>
<div class="dot" style="left:57.4px;top:661.5px;background:#7eb05e"></div>
<div class="dot" style="left:255.9px;top:725.7px;background:#a17a4f"></div>
<div class="dot" style="left:508.8px;top:253.9px;background:#c8c8c8"></div>
<div class="dot" style="left:599.8px;top:385.6px;background:#5cab8c"></div>
<div class="dot" style="left:603.3px;top:491.5px;background:#a9004d"></div>
<div class="dot" style="left:550.1px;top:633.8px;background:#dc977a"></div>
<div class="t" style="font-size:79.8px;font-weight:normal;color:#3d392f;-webkit-text-stroke:2.0px #3d392f;transform:translate(54.96px,36.00px) scaleX(1.0120)">26%</div>
<div class="t" style="font-size:66.3px;font-weight:normal;color:#3d392f;-webkit-text-stroke:1.7px #3d392f;transform:translate(548.23px,70.00px) scaleX(1.0628)">10-13</div>
<div class="t" style="font-size:43px;font-weight:normal;color:#3d392f;-webkit-text-stroke:1.5px #3d392f;transform:translate(729.30px,90.00px) scaleX(0.9772)">мм</div>
<div class="t" style="font-size:18.3px;font-weight:normal;color:#ffffff;-webkit-text-stroke:0.4px #ffffff;transform:translate(64.89px,122.00px) scaleX(1.0885)">МЯСА</div>
<div class="t" style="font-size:18.3px;font-weight:normal;color:#ffffff;-webkit-text-stroke:0.4px #ffffff;transform:translate(564.83px,145.00px) scaleX(1.1292)">РАЗМЕР ГРАНУЛ</div>
<div class="t" style="font-size:23.0px;font-weight:bold;color:#3d392f;transform:translate(66.47px,220.00px) scaleX(1.1075)">Яблоко</div>
<div class="t" style="font-size:13.3px;font-weight:normal;color:#423f39;-webkit-text-stroke:0.3px #423f39;transform:translate(66.98px,250.00px) scaleX(1.2158)">Источник клетчатки и фрукто-олиго-</div>
<div class="t" style="font-size:13.3px;font-weight:normal;color:#423f39;-webkit-text-stroke:0.3px #423f39;transform:translate(67.50px,264.00px) scaleX(1.1924)">сахаридов. Действуют как естествен-</div>
<div class="t" style="font-size:13.3px;font-weight:normal;color:#423f39;-webkit-text-stroke:0.3px #423f39;transform:translate(67.25px,279.00px) scaleX(1.2022)">ные пребиотики, способствуют росту</div>
<div class="t" style="font-size:13.3px;font-weight:normal;color:#423f39;-webkit-text-stroke:0.3px #423f39;transform:translate(67.25px,294.00px) scaleX(1.1955)">полезной микрофлоры в кишечнике</div>
<div class="t" style="font-size:13.3px;font-weight:normal;color:#423f39;-webkit-text-stroke:0.3px #423f39;transform:translate(67.27px,309.00px) scaleX(1.1676)">и обеспечивают защиту</div>
<div class="t" style="font-size:13.3px;font-weight:normal;color:#423f39;-webkit-text-stroke:0.3px #423f39;transform:translate(67.50px,323.00px) scaleX(1.2017)">от патогенных бактерий</div>
<div class="t" style="font-size:23.0px;font-weight:bold;color:#3d392f;transform:translate(58.97px,393.00px) scaleX(1.1002)">Морковь,</div>
<div class="t" style="font-size:23.0px;font-weight:bold;color:#3d392f;transform:translate(59.73px,416.00px) scaleX(1.1034)">черника</div>
<div class="t" style="font-size:13.3px;font-weight:normal;color:#423f39;-webkit-text-stroke:0.3px #423f39;transform:translate(60.51px,445.00px) scaleX(1.1828)">Способствуют</div>
<div class="t" style="font-size:13.3px;font-weight:normal;color:#423f39;-webkit-text-stroke:0.3px #423f39;transform:translate(60.76px,460.00px) scaleX(1.1825)">сохранению</div>
<div class="t" style="font-size:13.3px;font-weight:normal;color:#423f39;-webkit-text-stroke:0.3px #423f39;transform:translate(60.26px,474.00px) scaleX(1.1851)">и улучшению</div>
<div class="t" style="font-size:13.3px;font-weight:normal;color:#423f39;-webkit-text-stroke:0.3px #423f39;transform:translate(61.00px,489.00px) scaleX(1.1988)">зрения</div>
<div class="t" style="font-size:23.0px;font-weight:bold;color:#3d392f;transform:translate(56.65px,562.00px) scaleX(1.1466)">Цикорий</div>
<div class="t" style="font-size:13.3px;font-weight:normal;color:#423f39;-webkit-text-stroke:0.3px #423f39;transform:translate(58.75px,592.00px) scaleX(1.1753)">Для защиты печени</div>
<div class="t" style="font-size:23.0px;font-weight:bold;color:#3d392f;transform:translate(83.89px,659.00px) scaleX(1.1463)">Юкка</div>
<div class="t" style="font-size:23.0px;font-weight:bold;color:#3d392f;transform:translate(83.95px,682.00px) scaleX(1.1086)">Шидигера</div>
<div class="t" style="font-size:13.3px;font-weight:normal;color:#423f39;-webkit-text-stroke:0.3px #423f39;transform:translate(85.75px,712.00px) scaleX(1.1603)">Устраняет запах</div>
<div class="t" style="font-size:13.3px;font-weight:normal;color:#423f39;-webkit-text-stroke:0.3px #423f39;transform:translate(85.52px,726.00px) scaleX(1.1400)">фекалий</div>
<div class="t" style="font-size:23.0px;font-weight:bold;color:#3d392f;transform:translate(282.48px,723.00px) scaleX(1.1067)">Хондропротекторы</div>
<div class="t" style="font-size:13.3px;font-weight:normal;color:#423f39;-webkit-text-stroke:0.3px #423f39;transform:translate(283.75px,754.00px) scaleX(1.1899)">Для предотвращения болезней</div>
<div class="t" style="font-size:13.3px;font-weight:normal;color:#423f39;-webkit-text-stroke:0.3px #423f39;transform:translate(283.25px,768.00px) scaleX(1.1897)">суставов</div>
<div class="t" style="font-size:23.0px;font-weight:bold;color:#3d392f;transform:translate(534.71px,251.00px) scaleX(1.1226)">Экстракт алтея</div>
<div class="t" style="font-size:23.0px;font-weight:bold;color:#3d392f;transform:translate(533.94px,273.00px) scaleX(1.1168)">и ромашки</div>
<div class="t" style="font-size:13.3px;font-weight:normal;color:#423f39;-webkit-text-stroke:0.3px #423f39;transform:translate(535.76px,304.00px) scaleX(1.1909)">Противовоспалительные</div>
<div class="t" style="font-size:13.3px;font-weight:normal;color:#423f39;-webkit-text-stroke:0.3px #423f39;transform:translate(536.75px,319.00px) scaleX(1.1991)">средства.</div>
<div class="t" style="font-size:23.0px;font-weight:bold;color:#3d392f;transform:translate(626.75px,383.00px) scaleX(1.0969)">Ламинария</div>
<div class="t" style="font-size:13.3px;font-weight:normal;color:#423f39;-webkit-text-stroke:0.3px #423f39;transform:translate(627.75px,414.00px) scaleX(1.1960)">Источник витаминов</div>
<div class="t" style="font-size:23.0px;font-weight:bold;color:#3d392f;transform:translate(629.73px,489.00px) scaleX(1.0945)">Шиповник</div>
<div class="t" style="font-size:23.0px;font-weight:bold;color:#3d392f;transform:translate(629.47px,512.00px) scaleX(1.0989)">и клюква</div>
<div class="t" style="font-size:13.3px;font-weight:normal;color:#423f39;-webkit-text-stroke:0.3px #423f39;transform:translate(631.28px,544.00px) scaleX(1.1660)">Носители витамина С,</div>
<div class="t" style="font-size:13.3px;font-weight:normal;color:#423f39;-webkit-text-stroke:0.3px #423f39;transform:translate(631.28px,558.00px) scaleX(1.1617)">иммуностимуляторы</div>
<div class="t" style="font-size:23.0px;font-weight:bold;color:#3d392f;transform:translate(577.00px,632.00px) scaleX(1.0724)">Таурин</div>
<div class="t" style="font-size:13.3px;font-weight:normal;color:#423f39;-webkit-text-stroke:0.3px #423f39;transform:translate(577.50px,661.00px) scaleX(1.1773)">Укрепляет иммунитет,</div>
<div class="t" style="font-size:13.3px;font-weight:normal;color:#423f39;-webkit-text-stroke:0.3px #423f39;transform:translate(577.01px,676.00px) scaleX(1.1896)">поддерживает нормальную</div>
<div class="t" style="font-size:13.3px;font-weight:normal;color:#423f39;-webkit-text-stroke:0.3px #423f39;transform:translate(577.00px,691.00px) scaleX(1.2053)">работу почек и печени,</div>
<div class="t" style="font-size:13.3px;font-weight:normal;color:#423f39;-webkit-text-stroke:0.3px #423f39;transform:translate(577.75px,706.00px) scaleX(1.1773)">держит уровень сахара,</div>
<div class="t" style="font-size:13.3px;font-weight:normal;color:#423f39;-webkit-text-stroke:0.3px #423f39;transform:translate(577.26px,721.00px) scaleX(1.1723)">отвечает за хорошую работу</div>
<div class="t" style="font-size:13.3px;font-weight:normal;color:#423f39;-webkit-text-stroke:0.3px #423f39;transform:translate(577.25px,736.00px) scaleX(1.1920)">сердца, мозга и нервной</div>
<div class="t" style="font-size:13.3px;font-weight:normal;color:#423f39;-webkit-text-stroke:0.3px #423f39;transform:translate(577.25px,750.00px) scaleX(1.1884)">системы, также</div>
<div class="t" style="font-size:13.3px;font-weight:normal;color:#423f39;-webkit-text-stroke:0.3px #423f39;transform:translate(577.50px,765.00px) scaleX(1.1922)">за здоровье глаз</div>
</body></html>
